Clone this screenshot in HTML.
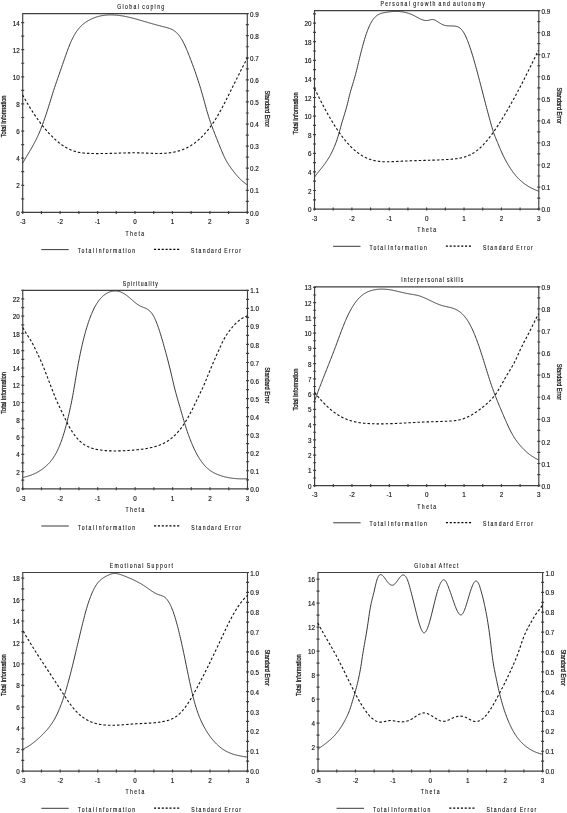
<!DOCTYPE html>
<html><head><meta charset="utf-8"><style>
html,body{margin:0;padding:0;background:#fff;}
body{width:567px;height:813px;overflow:hidden;}
svg{display:block;font-family:"Liberation Sans", sans-serif;will-change:transform;}
</style></head><body>
<svg width="567" height="813" viewBox="0 0 567 813">
<rect width="567" height="813" fill="#fff"/>
<g><path d="M22.7,13.6 H247.3 V212.4 H22.7 Z" fill="none" stroke="#404040" stroke-width="1.15"/>
<text x="22.7" y="224.1" text-anchor="middle" font-size="6.3" stroke="#111" stroke-width="0.14" fill="#111">-3</text>
<text x="60.13" y="224.1" text-anchor="middle" font-size="6.3" stroke="#111" stroke-width="0.14" fill="#111">-2</text>
<text x="97.57" y="224.1" text-anchor="middle" font-size="6.3" stroke="#111" stroke-width="0.14" fill="#111">-1</text>
<text x="135" y="224.1" text-anchor="middle" font-size="6.3" stroke="#111" stroke-width="0.14" fill="#111">0</text>
<text x="172.43" y="224.1" text-anchor="middle" font-size="6.3" stroke="#111" stroke-width="0.14" fill="#111">1</text>
<text x="209.87" y="224.1" text-anchor="middle" font-size="6.3" stroke="#111" stroke-width="0.14" fill="#111">2</text>
<text x="247.3" y="224.1" text-anchor="middle" font-size="6.3" stroke="#111" stroke-width="0.14" fill="#111">3</text>
<text x="19.7" y="215.5" text-anchor="end" font-size="6.3" stroke="#111" stroke-width="0.14" fill="#111">0</text>
<text x="19.7" y="188.38" text-anchor="end" font-size="6.3" stroke="#111" stroke-width="0.14" fill="#111">2</text>
<text x="19.7" y="161.26" text-anchor="end" font-size="6.3" stroke="#111" stroke-width="0.14" fill="#111">4</text>
<text x="19.7" y="134.14" text-anchor="end" font-size="6.3" stroke="#111" stroke-width="0.14" fill="#111">6</text>
<text x="19.7" y="107.02" text-anchor="end" font-size="6.3" stroke="#111" stroke-width="0.14" fill="#111">8</text>
<text x="19.7" y="79.9" text-anchor="end" font-size="6.3" stroke="#111" stroke-width="0.14" fill="#111">10</text>
<text x="19.7" y="52.78" text-anchor="end" font-size="6.3" stroke="#111" stroke-width="0.14" fill="#111">12</text>
<text x="19.7" y="25.66" text-anchor="end" font-size="6.3" stroke="#111" stroke-width="0.14" fill="#111">14</text>
<text x="250.1" y="215.5" text-anchor="start" font-size="6.3" stroke="#111" stroke-width="0.14" fill="#111">0.0</text>
<text x="250.1" y="193.41" text-anchor="start" font-size="6.3" stroke="#111" stroke-width="0.14" fill="#111">0.1</text>
<text x="250.1" y="171.32" text-anchor="start" font-size="6.3" stroke="#111" stroke-width="0.14" fill="#111">0.2</text>
<text x="250.1" y="149.23" text-anchor="start" font-size="6.3" stroke="#111" stroke-width="0.14" fill="#111">0.3</text>
<text x="250.1" y="127.14" text-anchor="start" font-size="6.3" stroke="#111" stroke-width="0.14" fill="#111">0.4</text>
<text x="250.1" y="105.06" text-anchor="start" font-size="6.3" stroke="#111" stroke-width="0.14" fill="#111">0.5</text>
<text x="250.1" y="82.97" text-anchor="start" font-size="6.3" stroke="#111" stroke-width="0.14" fill="#111">0.6</text>
<text x="250.1" y="60.88" text-anchor="start" font-size="6.3" stroke="#111" stroke-width="0.14" fill="#111">0.7</text>
<text x="250.1" y="38.79" text-anchor="start" font-size="6.3" stroke="#111" stroke-width="0.14" fill="#111">0.8</text>
<text x="250.1" y="16.7" text-anchor="start" font-size="6.3" stroke="#111" stroke-width="0.14" fill="#111">0.9</text>
<path d="M22.7,210.9v3 M41.42,210.9v3 M60.13,210.9v3 M78.85,210.9v3 M97.57,210.9v3 M116.28,210.9v3 M135,210.9v3 M153.72,210.9v3 M172.43,210.9v3 M191.15,210.9v3 M209.87,210.9v3 M228.58,210.9v3 M247.3,210.9v3 M21.2,212.4h3 M21.2,198.84h3 M21.2,185.28h3 M21.2,171.72h3 M21.2,158.16h3 M21.2,144.6h3 M21.2,131.04h3 M21.2,117.48h3 M21.2,103.92h3 M21.2,90.36h3 M21.2,76.8h3 M21.2,63.24h3 M21.2,49.68h3 M21.2,36.12h3 M21.2,22.56h3 M245.8,212.4h3 M245.8,201.36h3 M245.8,190.31h3 M245.8,179.27h3 M245.8,168.22h3 M245.8,157.18h3 M245.8,146.13h3 M245.8,135.09h3 M245.8,124.04h3 M245.8,113h3 M245.8,101.96h3 M245.8,90.91h3 M245.8,79.87h3 M245.8,68.82h3 M245.8,57.78h3 M245.8,46.73h3 M245.8,35.69h3 M245.8,24.64h3 M245.8,13.6h3" stroke="#404040" stroke-width="1.2" fill="none"/>
<text x="146.5" y="8.8" text-anchor="start" font-size="6.4" textLength="58.75" lengthAdjust="spacing" word-spacing="-1.0" transform="scale(0.8,1)" stroke="#111" stroke-width="0.12" fill="#111">Global coping</text>
<text transform="translate(5.9,116.4) rotate(-90)" text-anchor="middle" font-size="6.5" textLength="41.8" lengthAdjust="spacingAndGlyphs" fill="#111" stroke="#111" stroke-width="0.25">Total Information</text>
<text transform="translate(265.2,108.8) rotate(90)" text-anchor="middle" font-size="6.5" textLength="36.4" lengthAdjust="spacingAndGlyphs" fill="#111" stroke="#111" stroke-width="0.25">Standard Error</text>
<text x="156.75" y="235.8" text-anchor="start" font-size="6.4" textLength="23.5" lengthAdjust="spacing" word-spacing="-1.0" transform="scale(0.8,1)" stroke="#111" stroke-width="0.12" fill="#111">Theta</text>
<path d="M41.3,249.6H68.7" stroke="#222" stroke-width="0.9" fill="none"/>
<text x="97.12" y="253.2" text-anchor="start" font-size="6.4" textLength="71.62" lengthAdjust="spacing" word-spacing="-2.4" transform="scale(0.8,1)" stroke="#111" stroke-width="0.12" fill="#111">Total Information</text>
<path d="M154,249.4H179.3" stroke="#000" stroke-width="1.25" stroke-dasharray="2.1 1.75" fill="none"/>
<text x="238.87" y="253.2" text-anchor="start" font-size="6.4" textLength="62.37" lengthAdjust="spacing" word-spacing="-1.0" transform="scale(0.8,1)" stroke="#111" stroke-width="0.12" fill="#111">Standard Error</text>
<path d="M22.6,163.36 L23.1,162.47 L23.6,161.58 L24.1,160.7 L24.6,159.84 L25.1,158.98 L25.6,158.13 L26.1,157.28 L26.6,156.44 L27.1,155.6 L27.6,154.77 L28.1,153.93 L28.6,153.09 L29.1,152.25 L29.6,151.41 L30.1,150.56 L30.6,149.71 L31.1,148.85 L31.6,147.99 L32.1,147.11 L32.6,146.22 L33.1,145.32 L33.6,144.41 L34.1,143.48 L34.6,142.53 L35.1,141.57 L35.6,140.59 L36.1,139.6 L36.6,138.58 L37.1,137.53 L37.6,136.47 L38.1,135.38 L38.6,134.26 L39.1,133.12 L39.6,131.95 L40.1,130.75 L40.6,129.52 L41.1,128.27 L41.6,126.99 L42.1,125.68 L42.6,124.35 L43.1,123 L43.6,121.62 L44.1,120.21 L44.6,118.79 L45.1,117.34 L45.6,115.86 L46.1,114.37 L46.6,112.86 L47.1,111.32 L47.6,109.77 L48.1,108.2 L48.6,106.6 L49.1,105 L49.6,103.38 L50.1,101.76 L50.6,100.14 L51.1,98.51 L51.6,96.89 L52.1,95.28 L52.6,93.67 L53.1,92.09 L53.6,90.52 L54.1,88.98 L54.6,87.45 L55.1,85.96 L55.6,84.48 L56.1,83.02 L56.6,81.57 L57.1,80.13 L57.6,78.7 L58.1,77.28 L58.6,75.86 L59.1,74.44 L59.6,73.02 L60.1,71.6 L60.6,70.17 L61.1,68.72 L61.6,67.27 L62.1,65.82 L62.6,64.36 L63.1,62.9 L63.6,61.44 L64.1,59.99 L64.6,58.55 L65.1,57.11 L65.6,55.68 L66.1,54.27 L66.6,52.88 L67.1,51.5 L67.6,50.14 L68.1,48.81 L68.6,47.51 L69.1,46.23 L69.6,44.98 L70.1,43.77 L70.6,42.59 L71.1,41.45 L71.6,40.36 L72.1,39.3 L72.6,38.28 L73.1,37.3 L73.6,36.35 L74.1,35.45 L74.6,34.57 L75.1,33.74 L75.6,32.93 L76.1,32.16 L76.6,31.42 L77.1,30.71 L77.6,30.03 L78.1,29.38 L78.6,28.75 L79.1,28.15 L79.6,27.58 L80.1,27.03 L80.6,26.5 L81.1,26 L81.6,25.52 L82.1,25.06 L82.6,24.61 L83.1,24.19 L83.6,23.78 L84.1,23.39 L84.6,23.02 L85.1,22.66 L85.6,22.31 L86.1,21.98 L86.6,21.65 L87.1,21.34 L87.6,21.04 L88.1,20.74 L88.6,20.46 L89.1,20.18 L89.6,19.91 L90.1,19.65 L90.6,19.4 L91.1,19.15 L91.6,18.92 L92.1,18.69 L92.6,18.47 L93.1,18.26 L93.6,18.05 L94.1,17.85 L94.6,17.66 L95.1,17.48 L95.6,17.3 L96.1,17.13 L96.6,16.97 L97.1,16.82 L97.6,16.67 L98.1,16.53 L98.6,16.39 L99.1,16.26 L99.6,16.14 L100.1,16.03 L100.6,15.92 L101.1,15.81 L101.6,15.72 L102.1,15.62 L102.6,15.54 L103.1,15.46 L103.6,15.39 L104.1,15.32 L104.6,15.26 L105.1,15.2 L105.6,15.15 L106.1,15.1 L106.6,15.06 L107.1,15.02 L107.6,14.99 L108.1,14.96 L108.6,14.94 L109.1,14.93 L109.6,14.91 L110.1,14.91 L110.6,14.9 L111.1,14.9 L111.6,14.91 L112.1,14.92 L112.6,14.93 L113.1,14.95 L113.6,14.97 L114.1,14.99 L114.6,15.02 L115.1,15.05 L115.6,15.09 L116.1,15.13 L116.6,15.17 L117.1,15.22 L117.6,15.27 L118.1,15.33 L118.6,15.39 L119.1,15.45 L119.6,15.51 L120.1,15.58 L120.6,15.65 L121.1,15.72 L121.6,15.8 L122.1,15.88 L122.6,15.96 L123.1,16.05 L123.6,16.14 L124.1,16.23 L124.6,16.32 L125.1,16.42 L125.6,16.52 L126.1,16.62 L126.6,16.72 L127.1,16.83 L127.6,16.93 L128.1,17.04 L128.6,17.16 L129.1,17.27 L129.6,17.39 L130.1,17.51 L130.6,17.63 L131.1,17.75 L131.6,17.87 L132.1,18 L132.6,18.13 L133.1,18.25 L133.6,18.39 L134.1,18.52 L134.6,18.65 L135.1,18.79 L135.6,18.92 L136.1,19.06 L136.6,19.2 L137.1,19.34 L137.6,19.48 L138.1,19.62 L138.6,19.76 L139.1,19.9 L139.6,20.05 L140.1,20.19 L140.6,20.34 L141.1,20.48 L141.6,20.63 L142.1,20.77 L142.6,20.92 L143.1,21.07 L143.6,21.22 L144.1,21.36 L144.6,21.51 L145.1,21.66 L145.6,21.81 L146.1,21.96 L146.6,22.1 L147.1,22.25 L147.6,22.4 L148.1,22.55 L148.6,22.69 L149.1,22.84 L149.6,22.99 L150.1,23.13 L150.6,23.28 L151.1,23.42 L151.6,23.57 L152.1,23.71 L152.6,23.85 L153.1,23.99 L153.6,24.13 L154.1,24.27 L154.6,24.41 L155.1,24.55 L155.6,24.68 L156.1,24.82 L156.6,24.95 L157.1,25.08 L157.6,25.21 L158.1,25.34 L158.6,25.48 L159.1,25.61 L159.6,25.73 L160.1,25.86 L160.6,25.99 L161.1,26.12 L161.6,26.25 L162.1,26.38 L162.6,26.51 L163.1,26.64 L163.6,26.77 L164.1,26.9 L164.6,27.03 L165.1,27.16 L165.6,27.3 L166.1,27.43 L166.6,27.57 L167.1,27.7 L167.6,27.84 L168.1,27.99 L168.6,28.14 L169.1,28.3 L169.6,28.47 L170.1,28.65 L170.6,28.85 L171.1,29.06 L171.6,29.28 L172.1,29.52 L172.6,29.78 L173.1,30.07 L173.6,30.37 L174.1,30.69 L174.6,31.04 L175.1,31.42 L175.6,31.82 L176.1,32.26 L176.6,32.72 L177.1,33.22 L177.6,33.75 L178.1,34.31 L178.6,34.91 L179.1,35.54 L179.6,36.21 L180.1,36.91 L180.6,37.65 L181.1,38.43 L181.6,39.24 L182.1,40.09 L182.6,40.97 L183.1,41.89 L183.6,42.85 L184.1,43.85 L184.6,44.88 L185.1,45.96 L185.6,47.06 L186.1,48.2 L186.6,49.36 L187.1,50.55 L187.6,51.76 L188.1,53 L188.6,54.24 L189.1,55.51 L189.6,56.78 L190.1,58.07 L190.6,59.37 L191.1,60.68 L191.6,62 L192.1,63.34 L192.6,64.69 L193.1,66.05 L193.6,67.43 L194.1,68.82 L194.6,70.23 L195.1,71.65 L195.6,73.08 L196.1,74.53 L196.6,75.99 L197.1,77.47 L197.6,78.97 L198.1,80.49 L198.6,82.02 L199.1,83.59 L199.6,85.18 L200.1,86.79 L200.6,88.44 L201.1,90.12 L201.6,91.83 L202.1,93.57 L202.6,95.34 L203.1,97.13 L203.6,98.94 L204.1,100.75 L204.6,102.57 L205.1,104.38 L205.6,106.19 L206.1,107.98 L206.6,109.74 L207.1,111.49 L207.6,113.19 L208.1,114.86 L208.6,116.49 L209.1,118.07 L209.6,119.6 L210.1,121.09 L210.6,122.54 L211.1,123.96 L211.6,125.35 L212.1,126.71 L212.6,128.05 L213.1,129.38 L213.6,130.68 L214.1,131.98 L214.6,133.27 L215.1,134.55 L215.6,135.83 L216.1,137.1 L216.6,138.37 L217.1,139.64 L217.6,140.89 L218.1,142.14 L218.6,143.39 L219.1,144.63 L219.6,145.86 L220.1,147.08 L220.6,148.3 L221.1,149.5 L221.6,150.7 L222.1,151.89 L222.6,153.06 L223.1,154.21 L223.6,155.33 L224.1,156.43 L224.6,157.5 L225.1,158.53 L225.6,159.51 L226.1,160.46 L226.6,161.35 L227.1,162.21 L227.6,163.03 L228.1,163.81 L228.6,164.57 L229.1,165.32 L229.6,166.05 L230.1,166.77 L230.6,167.48 L231.1,168.19 L231.6,168.88 L232.1,169.56 L232.6,170.23 L233.1,170.89 L233.6,171.54 L234.1,172.18 L234.6,172.81 L235.1,173.43 L235.6,174.03 L236.1,174.63 L236.6,175.22 L237.1,175.79 L237.6,176.35 L238.1,176.9 L238.6,177.44 L239.1,177.97 L239.6,178.48 L240.1,178.98 L240.6,179.48 L241.1,179.95 L241.6,180.42 L242.1,180.87 L242.6,181.32 L243.1,181.74 L243.6,182.16 L244.1,182.56 L244.6,182.95 L245.1,183.33 L245.6,183.69 L246.1,184.04 L246.6,184.38 L247.1,184.7 L247.2,184.77" stroke="#383838" stroke-width="1" fill="none"/>
<path d="M22.5,94.77 L23,95.68 L23.5,96.57 L24,97.46 L24.5,98.35 L25,99.23 L25.5,100.1 L26,100.96 L26.5,101.82 L27,102.67 L27.5,103.52 L28,104.36 L28.5,105.19 L29,106.01 L29.5,106.83 L30,107.64 L30.5,108.44 L31,109.24 L31.5,110.03 L32,110.82 L32.5,111.59 L33,112.36 L33.5,113.13 L34,113.89 L34.5,114.63 L35,115.38 L35.5,116.11 L36,116.84 L36.5,117.57 L37,118.28 L37.5,118.99 L38,119.69 L38.5,120.38 L39,121.07 L39.5,121.75 L40,122.43 L40.5,123.09 L41,123.75 L41.5,124.4 L42,125.05 L42.5,125.69 L43,126.32 L43.5,126.94 L44,127.56 L44.5,128.17 L45,128.77 L45.5,129.37 L46,129.96 L46.5,130.54 L47,131.11 L47.5,131.68 L48,132.24 L48.5,132.79 L49,133.34 L49.5,133.87 L50,134.41 L50.5,134.93 L51,135.45 L51.5,135.95 L52,136.46 L52.5,136.95 L53,137.44 L53.5,137.92 L54,138.39 L54.5,138.85 L55,139.31 L55.5,139.76 L56,140.2 L56.5,140.64 L57,141.07 L57.5,141.49 L58,141.9 L58.5,142.3 L59,142.7 L59.5,143.09 L60,143.48 L60.5,143.85 L61,144.22 L61.5,144.58 L62,144.93 L62.5,145.28 L63,145.61 L63.5,145.94 L64,146.27 L64.5,146.58 L65,146.89 L65.5,147.19 L66,147.48 L66.5,147.76 L67,148.04 L67.5,148.31 L68,148.57 L68.5,148.82 L69,149.07 L69.5,149.3 L70,149.53 L70.5,149.76 L71,149.97 L71.5,150.18 L72,150.38 L72.5,150.57 L73,150.75 L73.5,150.92 L74,151.09 L74.5,151.25 L75,151.4 L75.5,151.55 L76,151.68 L76.5,151.81 L77,151.94 L77.5,152.06 L78,152.17 L78.5,152.27 L79,152.37 L79.5,152.46 L80,152.55 L80.5,152.63 L81,152.71 L81.5,152.78 L82,152.85 L82.5,152.91 L83,152.97 L83.5,153.02 L84,153.07 L84.5,153.12 L85,153.16 L85.5,153.2 L86,153.24 L86.5,153.27 L87,153.3 L87.5,153.33 L88,153.36 L88.5,153.38 L89,153.4 L89.5,153.42 L90,153.44 L90.5,153.46 L91,153.48 L91.5,153.49 L92,153.5 L92.5,153.52 L93,153.53 L93.5,153.54 L94,153.55 L94.5,153.56 L95,153.56 L95.5,153.57 L96,153.57 L96.5,153.58 L97,153.58 L97.5,153.58 L98,153.58 L98.5,153.58 L99,153.58 L99.5,153.58 L100,153.58 L100.5,153.57 L101,153.57 L101.5,153.56 L102,153.56 L102.5,153.55 L103,153.54 L103.5,153.53 L104,153.53 L104.5,153.52 L105,153.51 L105.5,153.5 L106,153.49 L106.5,153.47 L107,153.46 L107.5,153.45 L108,153.44 L108.5,153.42 L109,153.41 L109.5,153.4 L110,153.38 L110.5,153.37 L111,153.35 L111.5,153.34 L112,153.32 L112.5,153.31 L113,153.29 L113.5,153.28 L114,153.26 L114.5,153.24 L115,153.23 L115.5,153.21 L116,153.2 L116.5,153.18 L117,153.16 L117.5,153.15 L118,153.13 L118.5,153.12 L119,153.1 L119.5,153.08 L120,153.07 L120.5,153.05 L121,153.04 L121.5,153.02 L122,153.01 L122.5,152.99 L123,152.98 L123.5,152.97 L124,152.95 L124.5,152.94 L125,152.93 L125.5,152.92 L126,152.9 L126.5,152.89 L127,152.88 L127.5,152.87 L128,152.86 L128.5,152.86 L129,152.85 L129.5,152.84 L130,152.83 L130.5,152.83 L131,152.82 L131.5,152.82 L132,152.81 L132.5,152.81 L133,152.81 L133.5,152.81 L134,152.81 L134.5,152.81 L135,152.81 L135.5,152.81 L136,152.81 L136.5,152.82 L137,152.82 L137.5,152.83 L138,152.84 L138.5,152.85 L139,152.86 L139.5,152.87 L140,152.88 L140.5,152.89 L141,152.91 L141.5,152.92 L142,152.94 L142.5,152.96 L143,152.97 L143.5,152.99 L144,153.01 L144.5,153.03 L145,153.05 L145.5,153.07 L146,153.09 L146.5,153.11 L147,153.14 L147.5,153.16 L148,153.18 L148.5,153.2 L149,153.22 L149.5,153.24 L150,153.26 L150.5,153.28 L151,153.3 L151.5,153.32 L152,153.34 L152.5,153.35 L153,153.37 L153.5,153.38 L154,153.4 L154.5,153.41 L155,153.42 L155.5,153.43 L156,153.44 L156.5,153.45 L157,153.45 L157.5,153.46 L158,153.46 L158.5,153.46 L159,153.46 L159.5,153.45 L160,153.45 L160.5,153.44 L161,153.43 L161.5,153.42 L162,153.4 L162.5,153.39 L163,153.37 L163.5,153.34 L164,153.32 L164.5,153.29 L165,153.26 L165.5,153.22 L166,153.19 L166.5,153.15 L167,153.1 L167.5,153.06 L168,153 L168.5,152.95 L169,152.89 L169.5,152.83 L170,152.77 L170.5,152.7 L171,152.62 L171.5,152.55 L172,152.47 L172.5,152.38 L173,152.29 L173.5,152.2 L174,152.1 L174.5,151.99 L175,151.89 L175.5,151.77 L176,151.66 L176.5,151.53 L177,151.41 L177.5,151.27 L178,151.14 L178.5,151 L179,150.85 L179.5,150.69 L180,150.53 L180.5,150.37 L181,150.2 L181.5,150.02 L182,149.84 L182.5,149.65 L183,149.46 L183.5,149.26 L184,149.05 L184.5,148.84 L185,148.62 L185.5,148.4 L186,148.16 L186.5,147.93 L187,147.68 L187.5,147.43 L188,147.17 L188.5,146.9 L189,146.62 L189.5,146.34 L190,146.05 L190.5,145.76 L191,145.45 L191.5,145.14 L192,144.82 L192.5,144.49 L193,144.16 L193.5,143.82 L194,143.46 L194.5,143.1 L195,142.74 L195.5,142.36 L196,141.97 L196.5,141.58 L197,141.18 L197.5,140.77 L198,140.35 L198.5,139.92 L199,139.48 L199.5,139.03 L200,138.57 L200.5,138.11 L201,137.63 L201.5,137.14 L202,136.65 L202.5,136.14 L203,135.63 L203.5,135.11 L204,134.57 L204.5,134.03 L205,133.47 L205.5,132.9 L206,132.33 L206.5,131.74 L207,131.14 L207.5,130.54 L208,129.92 L208.5,129.29 L209,128.65 L209.5,128 L210,127.33 L210.5,126.66 L211,125.97 L211.5,125.28 L212,124.57 L212.5,123.85 L213,123.12 L213.5,122.37 L214,121.62 L214.5,120.85 L215,120.07 L215.5,119.28 L216,118.47 L216.5,117.65 L217,116.83 L217.5,115.98 L218,115.13 L218.5,114.27 L219,113.39 L219.5,112.51 L220,111.61 L220.5,110.71 L221,109.79 L221.5,108.87 L222,107.94 L222.5,107 L223,106.06 L223.5,105.1 L224,104.14 L224.5,103.18 L225,102.21 L225.5,101.23 L226,100.25 L226.5,99.26 L227,98.27 L227.5,97.28 L228,96.28 L228.5,95.28 L229,94.28 L229.5,93.27 L230,92.27 L230.5,91.26 L231,90.25 L231.5,89.24 L232,88.23 L232.5,87.22 L233,86.22 L233.5,85.21 L234,84.21 L234.5,83.2 L235,82.2 L235.5,81.21 L236,80.21 L236.5,79.22 L237,78.23 L237.5,77.24 L238,76.25 L238.5,75.26 L239,74.27 L239.5,73.28 L240,72.3 L240.5,71.31 L241,70.32 L241.5,69.33 L242,68.35 L242.5,67.36 L243,66.37 L243.5,65.38 L244,64.38 L244.5,63.39 L245,62.39 L245.5,61.39 L246,60.39 L246.5,59.39 L247,58.38 L247.3,57.77" stroke="#111" stroke-width="1.1" stroke-dasharray="2.5 2.05" fill="none"/></g>
<g><path d="M314.5,10.6 H538.8 V209.1 H314.5 Z" fill="none" stroke="#404040" stroke-width="1.15"/>
<text x="314.5" y="220.8" text-anchor="middle" font-size="6.3" stroke="#111" stroke-width="0.14" fill="#111">-3</text>
<text x="351.88" y="220.8" text-anchor="middle" font-size="6.3" stroke="#111" stroke-width="0.14" fill="#111">-2</text>
<text x="389.27" y="220.8" text-anchor="middle" font-size="6.3" stroke="#111" stroke-width="0.14" fill="#111">-1</text>
<text x="426.65" y="220.8" text-anchor="middle" font-size="6.3" stroke="#111" stroke-width="0.14" fill="#111">0</text>
<text x="464.03" y="220.8" text-anchor="middle" font-size="6.3" stroke="#111" stroke-width="0.14" fill="#111">1</text>
<text x="501.42" y="220.8" text-anchor="middle" font-size="6.3" stroke="#111" stroke-width="0.14" fill="#111">2</text>
<text x="538.8" y="220.8" text-anchor="middle" font-size="6.3" stroke="#111" stroke-width="0.14" fill="#111">3</text>
<text x="311.5" y="212.2" text-anchor="end" font-size="6.3" stroke="#111" stroke-width="0.14" fill="#111">0</text>
<text x="311.5" y="193.6" text-anchor="end" font-size="6.3" stroke="#111" stroke-width="0.14" fill="#111">2</text>
<text x="311.5" y="175" text-anchor="end" font-size="6.3" stroke="#111" stroke-width="0.14" fill="#111">4</text>
<text x="311.5" y="156.4" text-anchor="end" font-size="6.3" stroke="#111" stroke-width="0.14" fill="#111">6</text>
<text x="311.5" y="137.8" text-anchor="end" font-size="6.3" stroke="#111" stroke-width="0.14" fill="#111">8</text>
<text x="311.5" y="119.2" text-anchor="end" font-size="6.3" stroke="#111" stroke-width="0.14" fill="#111">10</text>
<text x="311.5" y="100.6" text-anchor="end" font-size="6.3" stroke="#111" stroke-width="0.14" fill="#111">12</text>
<text x="311.5" y="82" text-anchor="end" font-size="6.3" stroke="#111" stroke-width="0.14" fill="#111">14</text>
<text x="311.5" y="63.4" text-anchor="end" font-size="6.3" stroke="#111" stroke-width="0.14" fill="#111">16</text>
<text x="311.5" y="44.8" text-anchor="end" font-size="6.3" stroke="#111" stroke-width="0.14" fill="#111">18</text>
<text x="311.5" y="26.2" text-anchor="end" font-size="6.3" stroke="#111" stroke-width="0.14" fill="#111">20</text>
<text x="541.6" y="212.2" text-anchor="start" font-size="6.3" stroke="#111" stroke-width="0.14" fill="#111">0.0</text>
<text x="541.6" y="190.14" text-anchor="start" font-size="6.3" stroke="#111" stroke-width="0.14" fill="#111">0.1</text>
<text x="541.6" y="168.09" text-anchor="start" font-size="6.3" stroke="#111" stroke-width="0.14" fill="#111">0.2</text>
<text x="541.6" y="146.03" text-anchor="start" font-size="6.3" stroke="#111" stroke-width="0.14" fill="#111">0.3</text>
<text x="541.6" y="123.98" text-anchor="start" font-size="6.3" stroke="#111" stroke-width="0.14" fill="#111">0.4</text>
<text x="541.6" y="101.92" text-anchor="start" font-size="6.3" stroke="#111" stroke-width="0.14" fill="#111">0.5</text>
<text x="541.6" y="79.87" text-anchor="start" font-size="6.3" stroke="#111" stroke-width="0.14" fill="#111">0.6</text>
<text x="541.6" y="57.81" text-anchor="start" font-size="6.3" stroke="#111" stroke-width="0.14" fill="#111">0.7</text>
<text x="541.6" y="35.76" text-anchor="start" font-size="6.3" stroke="#111" stroke-width="0.14" fill="#111">0.8</text>
<text x="541.6" y="13.7" text-anchor="start" font-size="6.3" stroke="#111" stroke-width="0.14" fill="#111">0.9</text>
<path d="M314.5,207.6v3 M333.19,207.6v3 M351.88,207.6v3 M370.57,207.6v3 M389.27,207.6v3 M407.96,207.6v3 M426.65,207.6v3 M445.34,207.6v3 M464.03,207.6v3 M482.72,207.6v3 M501.42,207.6v3 M520.11,207.6v3 M538.8,207.6v3 M313,209.1h3 M313,199.8h3 M313,190.5h3 M313,181.2h3 M313,171.9h3 M313,162.6h3 M313,153.3h3 M313,144h3 M313,134.7h3 M313,125.4h3 M313,116.1h3 M313,106.8h3 M313,97.5h3 M313,88.2h3 M313,78.9h3 M313,69.6h3 M313,60.3h3 M313,51h3 M313,41.7h3 M313,32.4h3 M313,23.1h3 M313,13.8h3 M537.3,209.1h3 M537.3,198.07h3 M537.3,187.04h3 M537.3,176.02h3 M537.3,164.99h3 M537.3,153.96h3 M537.3,142.93h3 M537.3,131.91h3 M537.3,120.88h3 M537.3,109.85h3 M537.3,98.82h3 M537.3,87.79h3 M537.3,76.77h3 M537.3,65.74h3 M537.3,54.71h3 M537.3,43.68h3 M537.3,32.66h3 M537.3,21.63h3 M537.3,10.6h3" stroke="#404040" stroke-width="1.2" fill="none"/>
<text x="475.5" y="5.8" text-anchor="start" font-size="6.4" textLength="130.62" lengthAdjust="spacing" word-spacing="-1.0" transform="scale(0.8,1)" stroke="#111" stroke-width="0.12" fill="#111">Personal growth and autonomy</text>
<text transform="translate(297.7,113.25) rotate(-90)" text-anchor="middle" font-size="6.5" textLength="41.8" lengthAdjust="spacingAndGlyphs" fill="#111" stroke="#111" stroke-width="0.25">Total Information</text>
<text transform="translate(556.7,105.65) rotate(90)" text-anchor="middle" font-size="6.5" textLength="36.4" lengthAdjust="spacingAndGlyphs" fill="#111" stroke="#111" stroke-width="0.25">Standard Error</text>
<text x="521.5" y="232.5" text-anchor="start" font-size="6.4" textLength="23.5" lengthAdjust="spacing" word-spacing="-1.0" transform="scale(0.8,1)" stroke="#111" stroke-width="0.12" fill="#111">Theta</text>
<path d="M333.1,246.3H360.5" stroke="#222" stroke-width="0.9" fill="none"/>
<text x="461.88" y="249.9" text-anchor="start" font-size="6.4" textLength="71.62" lengthAdjust="spacing" word-spacing="-2.4" transform="scale(0.8,1)" stroke="#111" stroke-width="0.12" fill="#111">Total Information</text>
<path d="M445.8,246.1H471.1" stroke="#000" stroke-width="1.25" stroke-dasharray="2.1 1.75" fill="none"/>
<text x="603.62" y="249.9" text-anchor="start" font-size="6.4" textLength="62.37" lengthAdjust="spacing" word-spacing="-1.0" transform="scale(0.8,1)" stroke="#111" stroke-width="0.12" fill="#111">Standard Error</text>
<path d="M314.5,177.06 L315,176.38 L315.5,175.7 L316,175.04 L316.5,174.38 L317,173.74 L317.5,173.1 L318,172.47 L318.5,171.84 L319,171.21 L319.5,170.59 L320,169.97 L320.5,169.35 L321,168.72 L321.5,168.1 L322,167.46 L322.5,166.83 L323,166.18 L323.5,165.53 L324,164.86 L324.5,164.19 L325,163.5 L325.5,162.8 L326,162.09 L326.5,161.36 L327,160.61 L327.5,159.84 L328,159.05 L328.5,158.24 L329,157.41 L329.5,156.55 L330,155.67 L330.5,154.76 L331,153.83 L331.5,152.86 L332,151.87 L332.5,150.84 L333,149.78 L333.5,148.68 L334,147.55 L334.5,146.37 L335,145.14 L335.5,143.87 L336,142.54 L336.5,141.15 L337,139.7 L337.5,138.18 L338,136.6 L338.5,134.95 L339,133.22 L339.5,131.42 L340,129.59 L340.5,127.74 L341,125.92 L341.5,124.14 L342,122.42 L342.5,120.75 L343,119.1 L343.5,117.48 L344,115.86 L344.5,114.24 L345,112.59 L345.5,110.9 L346,109.17 L346.5,107.38 L347,105.51 L347.5,103.55 L348,101.52 L348.5,99.46 L349,97.4 L349.5,95.38 L350,93.44 L350.5,91.59 L351,89.83 L351.5,88.12 L352,86.47 L352.5,84.83 L353,83.2 L353.5,81.56 L354,79.87 L354.5,78.15 L355,76.38 L355.5,74.55 L356,72.68 L356.5,70.74 L357,68.75 L357.5,66.7 L358,64.62 L358.5,62.52 L359,60.42 L359.5,58.35 L360,56.3 L360.5,54.28 L361,52.29 L361.5,50.34 L362,48.42 L362.5,46.55 L363,44.71 L363.5,42.93 L364,41.19 L364.5,39.5 L365,37.86 L365.5,36.28 L366,34.76 L366.5,33.3 L367,31.89 L367.5,30.54 L368,29.25 L368.5,28.02 L369,26.85 L369.5,25.74 L370,24.69 L370.5,23.69 L371,22.76 L371.5,21.88 L372,21.06 L372.5,20.29 L373,19.58 L373.5,18.91 L374,18.29 L374.5,17.72 L375,17.19 L375.5,16.7 L376,16.25 L376.5,15.83 L377,15.46 L377.5,15.11 L378,14.8 L378.5,14.51 L379,14.26 L379.5,14.02 L380,13.81 L380.5,13.62 L381,13.45 L381.5,13.3 L382,13.16 L382.5,13.04 L383,12.92 L383.5,12.81 L384,12.71 L384.5,12.62 L385,12.53 L385.5,12.44 L386,12.35 L386.5,12.27 L387,12.19 L387.5,12.11 L388,12.04 L388.5,11.97 L389,11.9 L389.5,11.84 L390,11.78 L390.5,11.73 L391,11.67 L391.5,11.63 L392,11.59 L392.5,11.55 L393,11.52 L393.5,11.49 L394,11.47 L394.5,11.45 L395,11.43 L395.5,11.43 L396,11.42 L396.5,11.42 L397,11.43 L397.5,11.44 L398,11.46 L398.5,11.49 L399,11.52 L399.5,11.55 L400,11.59 L400.5,11.64 L401,11.69 L401.5,11.75 L402,11.82 L402.5,11.89 L403,11.97 L403.5,12.06 L404,12.15 L404.5,12.25 L405,12.36 L405.5,12.47 L406,12.6 L406.5,12.72 L407,12.86 L407.5,13 L408,13.15 L408.5,13.31 L409,13.48 L409.5,13.66 L410,13.84 L410.5,14.03 L411,14.23 L411.5,14.44 L412,14.65 L412.5,14.88 L413,15.11 L413.5,15.35 L414,15.6 L414.5,15.86 L415,16.12 L415.5,16.39 L416,16.66 L416.5,16.94 L417,17.21 L417.5,17.48 L418,17.75 L418.5,18.02 L419,18.28 L419.5,18.53 L420,18.78 L420.5,19.01 L421,19.24 L421.5,19.45 L422,19.65 L422.5,19.83 L423,19.99 L423.5,20.14 L424,20.27 L424.5,20.37 L425,20.46 L425.5,20.52 L426,20.55 L426.5,20.55 L427,20.53 L427.5,20.48 L428,20.4 L428.5,20.29 L429,20.17 L429.5,20.04 L430,19.91 L430.5,19.79 L431,19.68 L431.5,19.6 L432,19.55 L432.5,19.53 L433,19.57 L433.5,19.65 L434,19.78 L434.5,19.95 L435,20.16 L435.5,20.4 L436,20.67 L436.5,20.95 L437,21.26 L437.5,21.58 L438,21.9 L438.5,22.23 L439,22.55 L439.5,22.88 L440,23.2 L440.5,23.5 L441,23.8 L441.5,24.08 L442,24.34 L442.5,24.58 L443,24.8 L443.5,24.99 L444,25.15 L444.5,25.3 L445,25.42 L445.5,25.53 L446,25.62 L446.5,25.69 L447,25.75 L447.5,25.8 L448,25.84 L448.5,25.86 L449,25.89 L449.5,25.9 L450,25.91 L450.5,25.92 L451,25.93 L451.5,25.94 L452,25.95 L452.5,25.96 L453,25.99 L453.5,26.01 L454,26.05 L454.5,26.09 L455,26.15 L455.5,26.22 L456,26.31 L456.5,26.42 L457,26.56 L457.5,26.72 L458,26.91 L458.5,27.14 L459,27.41 L459.5,27.72 L460,28.08 L460.5,28.49 L461,28.95 L461.5,29.47 L462,30.06 L462.5,30.7 L463,31.42 L463.5,32.2 L464,33.04 L464.5,33.95 L465,34.91 L465.5,35.93 L466,37.01 L466.5,38.14 L467,39.33 L467.5,40.56 L468,41.84 L468.5,43.17 L469,44.54 L469.5,45.95 L470,47.41 L470.5,48.9 L471,50.43 L471.5,52 L472,53.6 L472.5,55.23 L473,56.89 L473.5,58.58 L474,60.3 L474.5,62.04 L475,63.81 L475.5,65.59 L476,67.4 L476.5,69.22 L477,71.06 L477.5,72.92 L478,74.79 L478.5,76.67 L479,78.57 L479.5,80.47 L480,82.39 L480.5,84.31 L481,86.24 L481.5,88.17 L482,90.1 L482.5,92.04 L483,93.97 L483.5,95.91 L484,97.84 L484.5,99.77 L485,101.69 L485.5,103.61 L486,105.52 L486.5,107.43 L487,109.32 L487.5,111.2 L488,113.07 L488.5,114.93 L489,116.78 L489.5,118.61 L490,120.42 L490.5,122.22 L491,123.99 L491.5,125.75 L492,127.48 L492.5,129.16 L493,130.77 L493.5,132.31 L494,133.76 L494.5,135.13 L495,136.43 L495.5,137.68 L496,138.9 L496.5,140.09 L497,141.27 L497.5,142.46 L498,143.66 L498.5,144.86 L499,146.06 L499.5,147.25 L500,148.43 L500.5,149.6 L501,150.75 L501.5,151.88 L502,152.99 L502.5,154.07 L503,155.13 L503.5,156.17 L504,157.19 L504.5,158.19 L505,159.16 L505.5,160.12 L506,161.05 L506.5,161.97 L507,162.86 L507.5,163.74 L508,164.59 L508.5,165.43 L509,166.25 L509.5,167.05 L510,167.83 L510.5,168.59 L511,169.34 L511.5,170.07 L512,170.78 L512.5,171.48 L513,172.15 L513.5,172.82 L514,173.46 L514.5,174.09 L515,174.71 L515.5,175.31 L516,175.89 L516.5,176.46 L517,177.02 L517.5,177.56 L518,178.09 L518.5,178.6 L519,179.1 L519.5,179.59 L520,180.06 L520.5,180.53 L521,180.98 L521.5,181.41 L522,181.84 L522.5,182.26 L523,182.66 L523.5,183.05 L524,183.44 L524.5,183.81 L525,184.17 L525.5,184.52 L526,184.87 L526.5,185.2 L527,185.52 L527.5,185.84 L528,186.15 L528.5,186.45 L529,186.74 L529.5,187.02 L530,187.3 L530.5,187.57 L531,187.83 L531.5,188.09 L532,188.34 L532.5,188.58 L533,188.82 L533.5,189.05 L534,189.28 L534.5,189.5 L535,189.72 L535.5,189.94 L536,190.15 L536.5,190.35 L537,190.56 L537.5,190.76 L538,190.95 L538.5,191.15 L538.8,191.26" stroke="#383838" stroke-width="1" fill="none"/>
<path d="M314.5,88.47 L315,89.48 L315.5,90.5 L316,91.51 L316.5,92.51 L317,93.52 L317.5,94.52 L318,95.51 L318.5,96.5 L319,97.49 L319.5,98.47 L320,99.45 L320.5,100.43 L321,101.4 L321.5,102.36 L322,103.32 L322.5,104.28 L323,105.23 L323.5,106.17 L324,107.11 L324.5,108.04 L325,108.97 L325.5,109.89 L326,110.81 L326.5,111.72 L327,112.62 L327.5,113.52 L328,114.41 L328.5,115.3 L329,116.18 L329.5,117.05 L330,117.92 L330.5,118.77 L331,119.63 L331.5,120.47 L332,121.31 L332.5,122.14 L333,122.96 L333.5,123.77 L334,124.58 L334.5,125.38 L335,126.17 L335.5,126.95 L336,127.72 L336.5,128.49 L337,129.24 L337.5,129.99 L338,130.73 L338.5,131.46 L339,132.19 L339.5,132.9 L340,133.6 L340.5,134.3 L341,134.98 L341.5,135.66 L342,136.32 L342.5,136.98 L343,137.63 L343.5,138.27 L344,138.9 L344.5,139.53 L345,140.14 L345.5,140.74 L346,141.34 L346.5,141.92 L347,142.5 L347.5,143.07 L348,143.63 L348.5,144.18 L349,144.72 L349.5,145.25 L350,145.77 L350.5,146.28 L351,146.79 L351.5,147.28 L352,147.77 L352.5,148.25 L353,148.71 L353.5,149.17 L354,149.62 L354.5,150.07 L355,150.5 L355.5,150.92 L356,151.34 L356.5,151.74 L357,152.14 L357.5,152.52 L358,152.9 L358.5,153.27 L359,153.63 L359.5,153.98 L360,154.33 L360.5,154.66 L361,154.98 L361.5,155.3 L362,155.6 L362.5,155.9 L363,156.19 L363.5,156.47 L364,156.74 L364.5,157 L365,157.25 L365.5,157.5 L366,157.73 L366.5,157.96 L367,158.18 L367.5,158.39 L368,158.6 L368.5,158.79 L369,158.98 L369.5,159.16 L370,159.33 L370.5,159.5 L371,159.66 L371.5,159.81 L372,159.96 L372.5,160.1 L373,160.23 L373.5,160.35 L374,160.47 L374.5,160.59 L375,160.69 L375.5,160.79 L376,160.89 L376.5,160.98 L377,161.06 L377.5,161.14 L378,161.22 L378.5,161.28 L379,161.35 L379.5,161.41 L380,161.46 L380.5,161.51 L381,161.55 L381.5,161.59 L382,161.63 L382.5,161.66 L383,161.69 L383.5,161.72 L384,161.74 L384.5,161.76 L385,161.77 L385.5,161.78 L386,161.79 L386.5,161.79 L387,161.79 L387.5,161.79 L388,161.79 L388.5,161.78 L389,161.78 L389.5,161.77 L390,161.75 L390.5,161.74 L391,161.72 L391.5,161.7 L392,161.68 L392.5,161.66 L393,161.64 L393.5,161.62 L394,161.59 L394.5,161.57 L395,161.54 L395.5,161.52 L396,161.49 L396.5,161.46 L397,161.43 L397.5,161.41 L398,161.38 L398.5,161.35 L399,161.32 L399.5,161.3 L400,161.27 L400.5,161.24 L401,161.22 L401.5,161.19 L402,161.17 L402.5,161.15 L403,161.12 L403.5,161.1 L404,161.08 L404.5,161.06 L405,161.04 L405.5,161.01 L406,160.99 L406.5,160.97 L407,160.95 L407.5,160.93 L408,160.92 L408.5,160.9 L409,160.88 L409.5,160.86 L410,160.84 L410.5,160.82 L411,160.81 L411.5,160.79 L412,160.77 L412.5,160.76 L413,160.74 L413.5,160.73 L414,160.71 L414.5,160.69 L415,160.68 L415.5,160.66 L416,160.65 L416.5,160.63 L417,160.62 L417.5,160.6 L418,160.59 L418.5,160.57 L419,160.56 L419.5,160.55 L420,160.53 L420.5,160.52 L421,160.5 L421.5,160.49 L422,160.47 L422.5,160.46 L423,160.45 L423.5,160.43 L424,160.42 L424.5,160.4 L425,160.39 L425.5,160.37 L426,160.36 L426.5,160.34 L427,160.33 L427.5,160.31 L428,160.3 L428.5,160.28 L429,160.27 L429.5,160.25 L430,160.24 L430.5,160.22 L431,160.2 L431.5,160.19 L432,160.17 L432.5,160.15 L433,160.14 L433.5,160.12 L434,160.1 L434.5,160.08 L435,160.07 L435.5,160.05 L436,160.03 L436.5,160.01 L437,159.99 L437.5,159.97 L438,159.95 L438.5,159.93 L439,159.91 L439.5,159.88 L440,159.86 L440.5,159.84 L441,159.82 L441.5,159.79 L442,159.77 L442.5,159.74 L443,159.72 L443.5,159.69 L444,159.67 L444.5,159.64 L445,159.61 L445.5,159.59 L446,159.56 L446.5,159.53 L447,159.5 L447.5,159.47 L448,159.44 L448.5,159.41 L449,159.37 L449.5,159.34 L450,159.31 L450.5,159.27 L451,159.24 L451.5,159.2 L452,159.16 L452.5,159.12 L453,159.07 L453.5,159.03 L454,158.98 L454.5,158.93 L455,158.87 L455.5,158.82 L456,158.76 L456.5,158.69 L457,158.62 L457.5,158.55 L458,158.48 L458.5,158.4 L459,158.31 L459.5,158.22 L460,158.13 L460.5,158.03 L461,157.92 L461.5,157.81 L462,157.69 L462.5,157.57 L463,157.44 L463.5,157.31 L464,157.17 L464.5,157.02 L465,156.86 L465.5,156.7 L466,156.53 L466.5,156.36 L467,156.17 L467.5,155.98 L468,155.78 L468.5,155.57 L469,155.35 L469.5,155.12 L470,154.89 L470.5,154.64 L471,154.39 L471.5,154.13 L472,153.85 L472.5,153.57 L473,153.28 L473.5,152.98 L474,152.66 L474.5,152.34 L475,152 L475.5,151.65 L476,151.3 L476.5,150.93 L477,150.55 L477.5,150.15 L478,149.75 L478.5,149.33 L479,148.9 L479.5,148.46 L480,148.01 L480.5,147.54 L481,147.07 L481.5,146.58 L482,146.09 L482.5,145.58 L483,145.06 L483.5,144.53 L484,143.99 L484.5,143.45 L485,142.89 L485.5,142.32 L486,141.74 L486.5,141.15 L487,140.56 L487.5,139.95 L488,139.34 L488.5,138.72 L489,138.08 L489.5,137.44 L490,136.79 L490.5,136.14 L491,135.47 L491.5,134.8 L492,134.12 L492.5,133.43 L493,132.74 L493.5,132.03 L494,131.32 L494.5,130.61 L495,129.89 L495.5,129.16 L496,128.42 L496.5,127.68 L497,126.93 L497.5,126.17 L498,125.41 L498.5,124.65 L499,123.88 L499.5,123.1 L500,122.32 L500.5,121.53 L501,120.74 L501.5,119.94 L502,119.14 L502.5,118.33 L503,117.52 L503.5,116.7 L504,115.88 L504.5,115.05 L505,114.22 L505.5,113.38 L506,112.54 L506.5,111.69 L507,110.84 L507.5,109.98 L508,109.12 L508.5,108.26 L509,107.39 L509.5,106.52 L510,105.64 L510.5,104.75 L511,103.87 L511.5,102.98 L512,102.08 L512.5,101.18 L513,100.28 L513.5,99.37 L514,98.46 L514.5,97.55 L515,96.63 L515.5,95.71 L516,94.78 L516.5,93.85 L517,92.92 L517.5,91.98 L518,91.04 L518.5,90.09 L519,89.15 L519.5,88.19 L520,87.24 L520.5,86.28 L521,85.32 L521.5,84.36 L522,83.39 L522.5,82.42 L523,81.45 L523.5,80.47 L524,79.49 L524.5,78.51 L525,77.52 L525.5,76.54 L526,75.55 L526.5,74.55 L527,73.56 L527.5,72.56 L528,71.56 L528.5,70.56 L529,69.55 L529.5,68.54 L530,67.53 L530.5,66.52 L531,65.5 L531.5,64.49 L532,63.47 L532.5,62.45 L533,61.42 L533.5,60.4 L534,59.37 L534.5,58.34 L535,57.31 L535.5,56.28 L536,55.25 L536.5,54.21 L537,53.17 L537.5,52.13 L538,51.09 L538.3,50.47" stroke="#111" stroke-width="1.1" stroke-dasharray="2.5 2.05" fill="none"/></g>
<g><path d="M22.75,290.3 H247.5 V488.8 H22.75 Z" fill="none" stroke="#404040" stroke-width="1.15"/>
<text x="22.75" y="500.5" text-anchor="middle" font-size="6.3" stroke="#111" stroke-width="0.14" fill="#111">-3</text>
<text x="60.21" y="500.5" text-anchor="middle" font-size="6.3" stroke="#111" stroke-width="0.14" fill="#111">-2</text>
<text x="97.67" y="500.5" text-anchor="middle" font-size="6.3" stroke="#111" stroke-width="0.14" fill="#111">-1</text>
<text x="135.12" y="500.5" text-anchor="middle" font-size="6.3" stroke="#111" stroke-width="0.14" fill="#111">0</text>
<text x="172.58" y="500.5" text-anchor="middle" font-size="6.3" stroke="#111" stroke-width="0.14" fill="#111">1</text>
<text x="210.04" y="500.5" text-anchor="middle" font-size="6.3" stroke="#111" stroke-width="0.14" fill="#111">2</text>
<text x="247.5" y="500.5" text-anchor="middle" font-size="6.3" stroke="#111" stroke-width="0.14" fill="#111">3</text>
<text x="19.75" y="491.9" text-anchor="end" font-size="6.3" stroke="#111" stroke-width="0.14" fill="#111">0</text>
<text x="19.75" y="474.64" text-anchor="end" font-size="6.3" stroke="#111" stroke-width="0.14" fill="#111">2</text>
<text x="19.75" y="457.38" text-anchor="end" font-size="6.3" stroke="#111" stroke-width="0.14" fill="#111">4</text>
<text x="19.75" y="440.12" text-anchor="end" font-size="6.3" stroke="#111" stroke-width="0.14" fill="#111">6</text>
<text x="19.75" y="422.86" text-anchor="end" font-size="6.3" stroke="#111" stroke-width="0.14" fill="#111">8</text>
<text x="19.75" y="405.6" text-anchor="end" font-size="6.3" stroke="#111" stroke-width="0.14" fill="#111">10</text>
<text x="19.75" y="388.34" text-anchor="end" font-size="6.3" stroke="#111" stroke-width="0.14" fill="#111">12</text>
<text x="19.75" y="371.08" text-anchor="end" font-size="6.3" stroke="#111" stroke-width="0.14" fill="#111">14</text>
<text x="19.75" y="353.82" text-anchor="end" font-size="6.3" stroke="#111" stroke-width="0.14" fill="#111">16</text>
<text x="19.75" y="336.56" text-anchor="end" font-size="6.3" stroke="#111" stroke-width="0.14" fill="#111">18</text>
<text x="19.75" y="319.3" text-anchor="end" font-size="6.3" stroke="#111" stroke-width="0.14" fill="#111">20</text>
<text x="19.75" y="302.04" text-anchor="end" font-size="6.3" stroke="#111" stroke-width="0.14" fill="#111">22</text>
<text x="250.3" y="491.9" text-anchor="start" font-size="6.3" stroke="#111" stroke-width="0.14" fill="#111">0.0</text>
<text x="250.3" y="473.85" text-anchor="start" font-size="6.3" stroke="#111" stroke-width="0.14" fill="#111">0.1</text>
<text x="250.3" y="455.81" text-anchor="start" font-size="6.3" stroke="#111" stroke-width="0.14" fill="#111">0.2</text>
<text x="250.3" y="437.76" text-anchor="start" font-size="6.3" stroke="#111" stroke-width="0.14" fill="#111">0.3</text>
<text x="250.3" y="419.72" text-anchor="start" font-size="6.3" stroke="#111" stroke-width="0.14" fill="#111">0.4</text>
<text x="250.3" y="401.67" text-anchor="start" font-size="6.3" stroke="#111" stroke-width="0.14" fill="#111">0.5</text>
<text x="250.3" y="383.63" text-anchor="start" font-size="6.3" stroke="#111" stroke-width="0.14" fill="#111">0.6</text>
<text x="250.3" y="365.58" text-anchor="start" font-size="6.3" stroke="#111" stroke-width="0.14" fill="#111">0.7</text>
<text x="250.3" y="347.54" text-anchor="start" font-size="6.3" stroke="#111" stroke-width="0.14" fill="#111">0.8</text>
<text x="250.3" y="329.49" text-anchor="start" font-size="6.3" stroke="#111" stroke-width="0.14" fill="#111">0.9</text>
<text x="250.3" y="311.45" text-anchor="start" font-size="6.3" stroke="#111" stroke-width="0.14" fill="#111">1.0</text>
<text x="250.3" y="293.4" text-anchor="start" font-size="6.3" stroke="#111" stroke-width="0.14" fill="#111">1.1</text>
<path d="M22.75,487.3v3 M41.48,487.3v3 M60.21,487.3v3 M78.94,487.3v3 M97.67,487.3v3 M116.4,487.3v3 M135.12,487.3v3 M153.85,487.3v3 M172.58,487.3v3 M191.31,487.3v3 M210.04,487.3v3 M228.77,487.3v3 M247.5,487.3v3 M21.25,488.8h3 M21.25,480.17h3 M21.25,471.54h3 M21.25,462.91h3 M21.25,454.28h3 M21.25,445.65h3 M21.25,437.02h3 M21.25,428.39h3 M21.25,419.76h3 M21.25,411.13h3 M21.25,402.5h3 M21.25,393.87h3 M21.25,385.24h3 M21.25,376.61h3 M21.25,367.98h3 M21.25,359.35h3 M21.25,350.72h3 M21.25,342.09h3 M21.25,333.46h3 M21.25,324.83h3 M21.25,316.2h3 M21.25,307.57h3 M21.25,298.94h3 M21.25,290.31h3 M246,488.8h3 M246,479.78h3 M246,470.75h3 M246,461.73h3 M246,452.71h3 M246,443.69h3 M246,434.66h3 M246,425.64h3 M246,416.62h3 M246,407.6h3 M246,398.57h3 M246,389.55h3 M246,380.53h3 M246,371.5h3 M246,362.48h3 M246,353.46h3 M246,344.44h3 M246,335.41h3 M246,326.39h3 M246,317.37h3 M246,308.35h3 M246,299.32h3 M246,290.3h3" stroke="#404040" stroke-width="1.2" fill="none"/>
<text x="153.5" y="285.5" text-anchor="start" font-size="6.4" textLength="43.75" lengthAdjust="spacing" word-spacing="-1.0" transform="scale(0.8,1)" stroke="#111" stroke-width="0.12" fill="#111">Spirituality</text>
<text transform="translate(5.95,392.95) rotate(-90)" text-anchor="middle" font-size="6.5" textLength="41.8" lengthAdjust="spacingAndGlyphs" fill="#111" stroke="#111" stroke-width="0.25">Total Information</text>
<text transform="translate(265.4,385.35) rotate(90)" text-anchor="middle" font-size="6.5" textLength="36.4" lengthAdjust="spacingAndGlyphs" fill="#111" stroke="#111" stroke-width="0.25">Standard Error</text>
<text x="156.81" y="512.2" text-anchor="start" font-size="6.4" textLength="23.5" lengthAdjust="spacing" word-spacing="-1.0" transform="scale(0.8,1)" stroke="#111" stroke-width="0.12" fill="#111">Theta</text>
<path d="M41.35,526H68.75" stroke="#222" stroke-width="0.9" fill="none"/>
<text x="97.19" y="529.6" text-anchor="start" font-size="6.4" textLength="71.62" lengthAdjust="spacing" word-spacing="-2.4" transform="scale(0.8,1)" stroke="#111" stroke-width="0.12" fill="#111">Total Information</text>
<path d="M154.05,525.8H179.35" stroke="#000" stroke-width="1.25" stroke-dasharray="2.1 1.75" fill="none"/>
<text x="238.94" y="529.6" text-anchor="start" font-size="6.4" textLength="62.37" lengthAdjust="spacing" word-spacing="-1.0" transform="scale(0.8,1)" stroke="#111" stroke-width="0.12" fill="#111">Standard Error</text>
<path d="M22.8,477.6 L23.3,477.47 L23.8,477.34 L24.3,477.2 L24.8,477.06 L25.3,476.92 L25.8,476.78 L26.3,476.64 L26.8,476.49 L27.3,476.34 L27.8,476.19 L28.3,476.03 L28.8,475.87 L29.3,475.7 L29.8,475.53 L30.3,475.36 L30.8,475.18 L31.3,474.99 L31.8,474.8 L32.3,474.6 L32.8,474.4 L33.3,474.2 L33.8,473.98 L34.3,473.76 L34.8,473.53 L35.3,473.3 L35.8,473.06 L36.3,472.81 L36.8,472.55 L37.3,472.29 L37.8,472.01 L38.3,471.73 L38.8,471.44 L39.3,471.14 L39.8,470.83 L40.3,470.52 L40.8,470.19 L41.3,469.85 L41.8,469.51 L42.3,469.15 L42.8,468.78 L43.3,468.4 L43.8,468.01 L44.3,467.61 L44.8,467.2 L45.3,466.77 L45.8,466.34 L46.3,465.89 L46.8,465.43 L47.3,464.95 L47.8,464.47 L48.3,463.96 L48.8,463.44 L49.3,462.9 L49.8,462.34 L50.3,461.76 L50.8,461.16 L51.3,460.54 L51.8,459.89 L52.3,459.21 L52.8,458.51 L53.3,457.78 L53.8,457.02 L54.3,456.23 L54.8,455.41 L55.3,454.55 L55.8,453.66 L56.3,452.73 L56.8,451.77 L57.3,450.76 L57.8,449.72 L58.3,448.64 L58.8,447.51 L59.3,446.34 L59.8,445.13 L60.3,443.87 L60.8,442.56 L61.3,441.21 L61.8,439.8 L62.3,438.34 L62.8,436.84 L63.3,435.28 L63.8,433.66 L64.3,432 L64.8,430.27 L65.3,428.49 L65.8,426.65 L66.3,424.75 L66.8,422.8 L67.3,420.78 L67.8,418.72 L68.3,416.61 L68.8,414.46 L69.3,412.28 L69.8,410.04 L70.3,407.76 L70.8,405.42 L71.3,403.01 L71.8,400.53 L72.3,397.98 L72.8,395.34 L73.3,392.61 L73.8,389.79 L74.3,386.86 L74.8,383.87 L75.3,380.84 L75.8,377.81 L76.3,374.82 L76.8,371.91 L77.3,369.07 L77.8,366.29 L78.3,363.59 L78.8,360.96 L79.3,358.39 L79.8,355.89 L80.3,353.46 L80.8,351.09 L81.3,348.78 L81.8,346.54 L82.3,344.36 L82.8,342.24 L83.3,340.18 L83.8,338.18 L84.3,336.24 L84.8,334.36 L85.3,332.53 L85.8,330.75 L86.3,329.03 L86.8,327.36 L87.3,325.74 L87.8,324.18 L88.3,322.66 L88.8,321.19 L89.3,319.77 L89.8,318.4 L90.3,317.07 L90.8,315.79 L91.3,314.55 L91.8,313.36 L92.3,312.2 L92.8,311.09 L93.3,310.02 L93.8,308.98 L94.3,307.99 L94.8,307.03 L95.3,306.11 L95.8,305.23 L96.3,304.38 L96.8,303.56 L97.3,302.78 L97.8,302.04 L98.3,301.32 L98.8,300.64 L99.3,299.98 L99.8,299.36 L100.3,298.77 L100.8,298.2 L101.3,297.66 L101.8,297.15 L102.3,296.66 L102.8,296.2 L103.3,295.76 L103.8,295.34 L104.3,294.95 L104.8,294.58 L105.3,294.23 L105.8,293.9 L106.3,293.59 L106.8,293.29 L107.3,293.02 L107.8,292.76 L108.3,292.52 L108.8,292.29 L109.3,292.09 L109.8,291.9 L110.3,291.73 L110.8,291.57 L111.3,291.43 L111.8,291.31 L112.3,291.21 L112.8,291.12 L113.3,291.05 L113.8,291 L114.3,290.97 L114.8,290.95 L115.3,290.95 L115.8,290.96 L116.3,291 L116.8,291.04 L117.3,291.11 L117.8,291.19 L118.3,291.3 L118.8,291.41 L119.3,291.55 L119.8,291.7 L120.3,291.86 L120.8,292.05 L121.3,292.25 L121.8,292.47 L122.3,292.7 L122.8,292.95 L123.3,293.22 L123.8,293.51 L124.3,293.81 L124.8,294.12 L125.3,294.46 L125.8,294.81 L126.3,295.17 L126.8,295.55 L127.3,295.94 L127.8,296.34 L128.3,296.75 L128.8,297.17 L129.3,297.59 L129.8,298.02 L130.3,298.45 L130.8,298.89 L131.3,299.33 L131.8,299.77 L132.3,300.21 L132.8,300.64 L133.3,301.08 L133.8,301.5 L134.3,301.93 L134.8,302.34 L135.3,302.75 L135.8,303.14 L136.3,303.53 L136.8,303.9 L137.3,304.26 L137.8,304.61 L138.3,304.93 L138.8,305.24 L139.3,305.54 L139.8,305.81 L140.3,306.06 L140.8,306.29 L141.3,306.51 L141.8,306.71 L142.3,306.91 L142.8,307.1 L143.3,307.3 L143.8,307.49 L144.3,307.68 L144.8,307.89 L145.3,308.1 L145.8,308.33 L146.3,308.57 L146.8,308.84 L147.3,309.13 L147.8,309.45 L148.3,309.79 L148.8,310.17 L149.3,310.59 L149.8,311.05 L150.3,311.55 L150.8,312.09 L151.3,312.69 L151.8,313.33 L152.3,314.04 L152.8,314.8 L153.3,315.63 L153.8,316.52 L154.3,317.48 L154.8,318.5 L155.3,319.59 L155.8,320.74 L156.3,321.96 L156.8,323.22 L157.3,324.54 L157.8,325.92 L158.3,327.34 L158.8,328.8 L159.3,330.31 L159.8,331.86 L160.3,333.45 L160.8,335.07 L161.3,336.72 L161.8,338.4 L162.3,340.11 L162.8,341.84 L163.3,343.59 L163.8,345.36 L164.3,347.15 L164.8,348.95 L165.3,350.76 L165.8,352.59 L166.3,354.43 L166.8,356.29 L167.3,358.18 L167.8,360.08 L168.3,362.01 L168.8,363.97 L169.3,365.95 L169.8,367.95 L170.3,369.99 L170.8,372.06 L171.3,374.17 L171.8,376.3 L172.3,378.47 L172.8,380.64 L173.3,382.8 L173.8,384.91 L174.3,386.95 L174.8,388.94 L175.3,390.86 L175.8,392.74 L176.3,394.57 L176.8,396.37 L177.3,398.13 L177.8,399.87 L178.3,401.59 L178.8,403.3 L179.3,405 L179.8,406.7 L180.3,408.41 L180.8,410.13 L181.3,411.86 L181.8,413.6 L182.3,415.34 L182.8,417.07 L183.3,418.79 L183.8,420.49 L184.3,422.16 L184.8,423.8 L185.3,425.4 L185.8,426.98 L186.3,428.52 L186.8,430.03 L187.3,431.52 L187.8,432.97 L188.3,434.39 L188.8,435.78 L189.3,437.14 L189.8,438.47 L190.3,439.78 L190.8,441.05 L191.3,442.29 L191.8,443.51 L192.3,444.69 L192.8,445.85 L193.3,446.98 L193.8,448.08 L194.3,449.15 L194.8,450.2 L195.3,451.21 L195.8,452.2 L196.3,453.17 L196.8,454.1 L197.3,455.01 L197.8,455.89 L198.3,456.75 L198.8,457.58 L199.3,458.38 L199.8,459.16 L200.3,459.92 L200.8,460.65 L201.3,461.35 L201.8,462.04 L202.3,462.7 L202.8,463.34 L203.3,463.95 L203.8,464.55 L204.3,465.12 L204.8,465.68 L205.3,466.21 L205.8,466.73 L206.3,467.22 L206.8,467.7 L207.3,468.16 L207.8,468.61 L208.3,469.03 L208.8,469.44 L209.3,469.84 L209.8,470.22 L210.3,470.58 L210.8,470.93 L211.3,471.27 L211.8,471.59 L212.3,471.9 L212.8,472.2 L213.3,472.49 L213.8,472.76 L214.3,473.03 L214.8,473.28 L215.3,473.52 L215.8,473.76 L216.3,473.98 L216.8,474.2 L217.3,474.41 L217.8,474.61 L218.3,474.81 L218.8,475 L219.3,475.18 L219.8,475.36 L220.3,475.53 L220.8,475.69 L221.3,475.86 L221.8,476.01 L222.3,476.16 L222.8,476.31 L223.3,476.45 L223.8,476.59 L224.3,476.72 L224.8,476.85 L225.3,476.97 L225.8,477.09 L226.3,477.21 L226.8,477.32 L227.3,477.42 L227.8,477.52 L228.3,477.62 L228.8,477.71 L229.3,477.8 L229.8,477.88 L230.3,477.96 L230.8,478.04 L231.3,478.11 L231.8,478.18 L232.3,478.25 L232.8,478.31 L233.3,478.37 L233.8,478.42 L234.3,478.47 L234.8,478.52 L235.3,478.56 L235.8,478.6 L236.3,478.64 L236.8,478.68 L237.3,478.71 L237.8,478.74 L238.3,478.76 L238.8,478.78 L239.3,478.8 L239.8,478.82 L240.3,478.83 L240.8,478.85 L241.3,478.86 L241.8,478.86 L242.3,478.87 L242.8,478.87 L243.3,478.87 L243.8,478.86 L244.3,478.86 L244.8,478.85 L245.3,478.84 L245.8,478.83 L246.3,478.82 L246.8,478.81 L247.3,478.79 L247.5,478.78" stroke="#383838" stroke-width="1" fill="none"/>
<path d="M22.8,327.52 L23.3,328.42 L23.8,329.3 L24.3,330.16 L24.8,331 L25.3,331.82 L25.8,332.62 L26.3,333.42 L26.8,334.2 L27.3,334.99 L27.8,335.77 L28.3,336.55 L28.8,337.33 L29.3,338.12 L29.8,338.92 L30.3,339.73 L30.8,340.55 L31.3,341.39 L31.8,342.26 L32.3,343.14 L32.8,344.05 L33.3,344.99 L33.8,345.96 L34.3,346.96 L34.8,347.97 L35.3,349 L35.8,350.04 L36.3,351.09 L36.8,352.14 L37.3,353.19 L37.8,354.24 L38.3,355.29 L38.8,356.35 L39.3,357.42 L39.8,358.49 L40.3,359.59 L40.8,360.7 L41.3,361.83 L41.8,362.98 L42.3,364.16 L42.8,365.36 L43.3,366.58 L43.8,367.82 L44.3,369.08 L44.8,370.35 L45.3,371.63 L45.8,372.93 L46.3,374.23 L46.8,375.54 L47.3,376.86 L47.8,378.17 L48.3,379.5 L48.8,380.82 L49.3,382.14 L49.8,383.46 L50.3,384.78 L50.8,386.09 L51.3,387.4 L51.8,388.7 L52.3,389.99 L52.8,391.27 L53.3,392.55 L53.8,393.8 L54.3,395.05 L54.8,396.28 L55.3,397.49 L55.8,398.69 L56.3,399.87 L56.8,401.02 L57.3,402.16 L57.8,403.28 L58.3,404.38 L58.8,405.47 L59.3,406.54 L59.8,407.6 L60.3,408.65 L60.8,409.69 L61.3,410.73 L61.8,411.76 L62.3,412.79 L62.8,413.81 L63.3,414.85 L63.8,415.88 L64.3,416.92 L64.8,417.97 L65.3,419.01 L65.8,420.05 L66.3,421.08 L66.8,422.1 L67.3,423.1 L67.8,424.07 L68.3,425.03 L68.8,425.96 L69.3,426.86 L69.8,427.75 L70.3,428.61 L70.8,429.45 L71.3,430.27 L71.8,431.06 L72.3,431.84 L72.8,432.59 L73.3,433.32 L73.8,434.03 L74.3,434.72 L74.8,435.4 L75.3,436.05 L75.8,436.68 L76.3,437.29 L76.8,437.88 L77.3,438.46 L77.8,439.01 L78.3,439.55 L78.8,440.07 L79.3,440.57 L79.8,441.05 L80.3,441.51 L80.8,441.96 L81.3,442.39 L81.8,442.81 L82.3,443.2 L82.8,443.58 L83.3,443.95 L83.8,444.3 L84.3,444.64 L84.8,444.96 L85.3,445.27 L85.8,445.56 L86.3,445.85 L86.8,446.12 L87.3,446.37 L87.8,446.62 L88.3,446.85 L88.8,447.07 L89.3,447.28 L89.8,447.49 L90.3,447.68 L90.8,447.86 L91.3,448.03 L91.8,448.19 L92.3,448.35 L92.8,448.5 L93.3,448.64 L93.8,448.77 L94.3,448.9 L94.8,449.01 L95.3,449.13 L95.8,449.24 L96.3,449.34 L96.8,449.44 L97.3,449.53 L97.8,449.62 L98.3,449.7 L98.8,449.79 L99.3,449.86 L99.8,449.94 L100.3,450.01 L100.8,450.08 L101.3,450.15 L101.8,450.21 L102.3,450.27 L102.8,450.33 L103.3,450.38 L103.8,450.44 L104.3,450.49 L104.8,450.53 L105.3,450.58 L105.8,450.62 L106.3,450.66 L106.8,450.69 L107.3,450.72 L107.8,450.76 L108.3,450.78 L108.8,450.81 L109.3,450.83 L109.8,450.86 L110.3,450.87 L110.8,450.89 L111.3,450.91 L111.8,450.92 L112.3,450.93 L112.8,450.94 L113.3,450.95 L113.8,450.95 L114.3,450.95 L114.8,450.96 L115.3,450.95 L115.8,450.95 L116.3,450.95 L116.8,450.94 L117.3,450.94 L117.8,450.93 L118.3,450.92 L118.8,450.9 L119.3,450.89 L119.8,450.88 L120.3,450.86 L120.8,450.84 L121.3,450.82 L121.8,450.8 L122.3,450.78 L122.8,450.76 L123.3,450.74 L123.8,450.71 L124.3,450.69 L124.8,450.66 L125.3,450.64 L125.8,450.61 L126.3,450.58 L126.8,450.55 L127.3,450.52 L127.8,450.49 L128.3,450.46 L128.8,450.43 L129.3,450.39 L129.8,450.36 L130.3,450.33 L130.8,450.29 L131.3,450.26 L131.8,450.22 L132.3,450.19 L132.8,450.15 L133.3,450.11 L133.8,450.07 L134.3,450.03 L134.8,449.99 L135.3,449.95 L135.8,449.9 L136.3,449.86 L136.8,449.81 L137.3,449.76 L137.8,449.71 L138.3,449.66 L138.8,449.61 L139.3,449.56 L139.8,449.5 L140.3,449.44 L140.8,449.38 L141.3,449.32 L141.8,449.26 L142.3,449.19 L142.8,449.12 L143.3,449.05 L143.8,448.98 L144.3,448.91 L144.8,448.83 L145.3,448.75 L145.8,448.67 L146.3,448.58 L146.8,448.5 L147.3,448.41 L147.8,448.31 L148.3,448.22 L148.8,448.12 L149.3,448.02 L149.8,447.91 L150.3,447.81 L150.8,447.7 L151.3,447.58 L151.8,447.46 L152.3,447.34 L152.8,447.22 L153.3,447.09 L153.8,446.96 L154.3,446.83 L154.8,446.69 L155.3,446.55 L155.8,446.4 L156.3,446.24 L156.8,446.09 L157.3,445.92 L157.8,445.76 L158.3,445.58 L158.8,445.4 L159.3,445.22 L159.8,445.02 L160.3,444.82 L160.8,444.62 L161.3,444.41 L161.8,444.19 L162.3,443.96 L162.8,443.73 L163.3,443.48 L163.8,443.23 L164.3,442.98 L164.8,442.71 L165.3,442.43 L165.8,442.15 L166.3,441.86 L166.8,441.56 L167.3,441.24 L167.8,440.92 L168.3,440.59 L168.8,440.25 L169.3,439.9 L169.8,439.54 L170.3,439.16 L170.8,438.78 L171.3,438.39 L171.8,437.98 L172.3,437.56 L172.8,437.13 L173.3,436.69 L173.8,436.24 L174.3,435.77 L174.8,435.29 L175.3,434.8 L175.8,434.3 L176.3,433.78 L176.8,433.25 L177.3,432.7 L177.8,432.14 L178.3,431.57 L178.8,430.98 L179.3,430.38 L179.8,429.77 L180.3,429.14 L180.8,428.49 L181.3,427.83 L181.8,427.16 L182.3,426.47 L182.8,425.77 L183.3,425.05 L183.8,424.31 L184.3,423.56 L184.8,422.8 L185.3,422.02 L185.8,421.22 L186.3,420.41 L186.8,419.58 L187.3,418.73 L187.8,417.87 L188.3,416.99 L188.8,416.1 L189.3,415.19 L189.8,414.26 L190.3,413.32 L190.8,412.36 L191.3,411.39 L191.8,410.4 L192.3,409.4 L192.8,408.39 L193.3,407.38 L193.8,406.35 L194.3,405.32 L194.8,404.28 L195.3,403.24 L195.8,402.19 L196.3,401.14 L196.8,400.09 L197.3,399.05 L197.8,398 L198.3,396.96 L198.8,395.92 L199.3,394.88 L199.8,393.86 L200.3,392.84 L200.8,391.81 L201.3,390.79 L201.8,389.75 L202.3,388.7 L202.8,387.63 L203.3,386.53 L203.8,385.4 L204.3,384.24 L204.8,383.04 L205.3,381.83 L205.8,380.59 L206.3,379.34 L206.8,378.1 L207.3,376.85 L207.8,375.61 L208.3,374.38 L208.8,373.16 L209.3,371.95 L209.8,370.75 L210.3,369.55 L210.8,368.37 L211.3,367.18 L211.8,366.01 L212.3,364.84 L212.8,363.68 L213.3,362.53 L213.8,361.38 L214.3,360.23 L214.8,359.1 L215.3,357.96 L215.8,356.84 L216.3,355.71 L216.8,354.59 L217.3,353.48 L217.8,352.37 L218.3,351.26 L218.8,350.15 L219.3,349.05 L219.8,347.96 L220.3,346.86 L220.8,345.77 L221.3,344.69 L221.8,343.62 L222.3,342.56 L222.8,341.53 L223.3,340.53 L223.8,339.55 L224.3,338.62 L224.8,337.72 L225.3,336.86 L225.8,336.03 L226.3,335.24 L226.8,334.47 L227.3,333.74 L227.8,333.02 L228.3,332.33 L228.8,331.65 L229.3,330.99 L229.8,330.34 L230.3,329.7 L230.8,329.08 L231.3,328.46 L231.8,327.86 L232.3,327.26 L232.8,326.68 L233.3,326.12 L233.8,325.56 L234.3,325.02 L234.8,324.49 L235.3,323.97 L235.8,323.47 L236.3,322.98 L236.8,322.5 L237.3,322.04 L237.8,321.59 L238.3,321.15 L238.8,320.73 L239.3,320.32 L239.8,319.93 L240.3,319.56 L240.8,319.19 L241.3,318.85 L241.8,318.52 L242.3,318.2 L242.8,317.9 L243.3,317.62 L243.8,317.35 L244.3,317.1 L244.8,316.86 L245.3,316.64 L245.8,316.44 L246.3,316.26 L246.8,316.09 L247.3,315.94 L247.5,315.89" stroke="#111" stroke-width="1.1" stroke-dasharray="2.5 2.05" fill="none"/></g>
<g><path d="M314.6,286.8 H538.8 V485.6 H314.6 Z" fill="none" stroke="#404040" stroke-width="1.15"/>
<text x="314.6" y="497.3" text-anchor="middle" font-size="6.3" stroke="#111" stroke-width="0.14" fill="#111">-3</text>
<text x="351.97" y="497.3" text-anchor="middle" font-size="6.3" stroke="#111" stroke-width="0.14" fill="#111">-2</text>
<text x="389.33" y="497.3" text-anchor="middle" font-size="6.3" stroke="#111" stroke-width="0.14" fill="#111">-1</text>
<text x="426.7" y="497.3" text-anchor="middle" font-size="6.3" stroke="#111" stroke-width="0.14" fill="#111">0</text>
<text x="464.07" y="497.3" text-anchor="middle" font-size="6.3" stroke="#111" stroke-width="0.14" fill="#111">1</text>
<text x="501.43" y="497.3" text-anchor="middle" font-size="6.3" stroke="#111" stroke-width="0.14" fill="#111">2</text>
<text x="538.8" y="497.3" text-anchor="middle" font-size="6.3" stroke="#111" stroke-width="0.14" fill="#111">3</text>
<text x="311.6" y="488.7" text-anchor="end" font-size="6.3" stroke="#111" stroke-width="0.14" fill="#111">0</text>
<text x="311.6" y="473.45" text-anchor="end" font-size="6.3" stroke="#111" stroke-width="0.14" fill="#111">1</text>
<text x="311.6" y="458.2" text-anchor="end" font-size="6.3" stroke="#111" stroke-width="0.14" fill="#111">2</text>
<text x="311.6" y="442.95" text-anchor="end" font-size="6.3" stroke="#111" stroke-width="0.14" fill="#111">3</text>
<text x="311.6" y="427.7" text-anchor="end" font-size="6.3" stroke="#111" stroke-width="0.14" fill="#111">4</text>
<text x="311.6" y="412.45" text-anchor="end" font-size="6.3" stroke="#111" stroke-width="0.14" fill="#111">5</text>
<text x="311.6" y="397.2" text-anchor="end" font-size="6.3" stroke="#111" stroke-width="0.14" fill="#111">6</text>
<text x="311.6" y="381.95" text-anchor="end" font-size="6.3" stroke="#111" stroke-width="0.14" fill="#111">7</text>
<text x="311.6" y="366.7" text-anchor="end" font-size="6.3" stroke="#111" stroke-width="0.14" fill="#111">8</text>
<text x="311.6" y="351.45" text-anchor="end" font-size="6.3" stroke="#111" stroke-width="0.14" fill="#111">9</text>
<text x="311.6" y="336.2" text-anchor="end" font-size="6.3" stroke="#111" stroke-width="0.14" fill="#111">10</text>
<text x="311.6" y="320.95" text-anchor="end" font-size="6.3" stroke="#111" stroke-width="0.14" fill="#111">11</text>
<text x="311.6" y="305.7" text-anchor="end" font-size="6.3" stroke="#111" stroke-width="0.14" fill="#111">12</text>
<text x="311.6" y="290.45" text-anchor="end" font-size="6.3" stroke="#111" stroke-width="0.14" fill="#111">13</text>
<text x="541.6" y="488.7" text-anchor="start" font-size="6.3" stroke="#111" stroke-width="0.14" fill="#111">0.0</text>
<text x="541.6" y="466.61" text-anchor="start" font-size="6.3" stroke="#111" stroke-width="0.14" fill="#111">0.1</text>
<text x="541.6" y="444.52" text-anchor="start" font-size="6.3" stroke="#111" stroke-width="0.14" fill="#111">0.2</text>
<text x="541.6" y="422.43" text-anchor="start" font-size="6.3" stroke="#111" stroke-width="0.14" fill="#111">0.3</text>
<text x="541.6" y="400.34" text-anchor="start" font-size="6.3" stroke="#111" stroke-width="0.14" fill="#111">0.4</text>
<text x="541.6" y="378.26" text-anchor="start" font-size="6.3" stroke="#111" stroke-width="0.14" fill="#111">0.5</text>
<text x="541.6" y="356.17" text-anchor="start" font-size="6.3" stroke="#111" stroke-width="0.14" fill="#111">0.6</text>
<text x="541.6" y="334.08" text-anchor="start" font-size="6.3" stroke="#111" stroke-width="0.14" fill="#111">0.7</text>
<text x="541.6" y="311.99" text-anchor="start" font-size="6.3" stroke="#111" stroke-width="0.14" fill="#111">0.8</text>
<text x="541.6" y="289.9" text-anchor="start" font-size="6.3" stroke="#111" stroke-width="0.14" fill="#111">0.9</text>
<path d="M314.6,484.1v3 M333.28,484.1v3 M351.97,484.1v3 M370.65,484.1v3 M389.33,484.1v3 M408.02,484.1v3 M426.7,484.1v3 M445.38,484.1v3 M464.07,484.1v3 M482.75,484.1v3 M501.43,484.1v3 M520.12,484.1v3 M538.8,484.1v3 M313.1,485.6h3 M313.1,477.98h3 M313.1,470.35h3 M313.1,462.73h3 M313.1,455.1h3 M313.1,447.48h3 M313.1,439.85h3 M313.1,432.23h3 M313.1,424.6h3 M313.1,416.98h3 M313.1,409.35h3 M313.1,401.73h3 M313.1,394.1h3 M313.1,386.48h3 M313.1,378.85h3 M313.1,371.23h3 M313.1,363.6h3 M313.1,355.98h3 M313.1,348.35h3 M313.1,340.73h3 M313.1,333.1h3 M313.1,325.48h3 M313.1,317.85h3 M313.1,310.23h3 M313.1,302.6h3 M313.1,294.98h3 M313.1,287.35h3 M537.3,485.6h3 M537.3,474.56h3 M537.3,463.51h3 M537.3,452.47h3 M537.3,441.42h3 M537.3,430.38h3 M537.3,419.33h3 M537.3,408.29h3 M537.3,397.24h3 M537.3,386.2h3 M537.3,375.16h3 M537.3,364.11h3 M537.3,353.07h3 M537.3,342.02h3 M537.3,330.98h3 M537.3,319.93h3 M537.3,308.89h3 M537.3,297.84h3 M537.3,286.8h3" stroke="#404040" stroke-width="1.2" fill="none"/>
<text x="501.5" y="282" text-anchor="start" font-size="6.4" textLength="77.75" lengthAdjust="spacing" word-spacing="-1.0" transform="scale(0.8,1)" stroke="#111" stroke-width="0.12" fill="#111">Interpersonal skills</text>
<text transform="translate(297.8,389.6) rotate(-90)" text-anchor="middle" font-size="6.5" textLength="41.8" lengthAdjust="spacingAndGlyphs" fill="#111" stroke="#111" stroke-width="0.25">Total Information</text>
<text transform="translate(556.7,382) rotate(90)" text-anchor="middle" font-size="6.5" textLength="36.4" lengthAdjust="spacingAndGlyphs" fill="#111" stroke="#111" stroke-width="0.25">Standard Error</text>
<text x="521.62" y="509" text-anchor="start" font-size="6.4" textLength="23.5" lengthAdjust="spacing" word-spacing="-1.0" transform="scale(0.8,1)" stroke="#111" stroke-width="0.12" fill="#111">Theta</text>
<path d="M333.2,522.8H360.6" stroke="#222" stroke-width="0.9" fill="none"/>
<text x="462" y="526.4" text-anchor="start" font-size="6.4" textLength="71.62" lengthAdjust="spacing" word-spacing="-2.4" transform="scale(0.8,1)" stroke="#111" stroke-width="0.12" fill="#111">Total Information</text>
<path d="M445.9,522.6H471.2" stroke="#000" stroke-width="1.25" stroke-dasharray="2.1 1.75" fill="none"/>
<text x="603.75" y="526.4" text-anchor="start" font-size="6.4" textLength="62.37" lengthAdjust="spacing" word-spacing="-1.0" transform="scale(0.8,1)" stroke="#111" stroke-width="0.12" fill="#111">Standard Error</text>
<path d="M314.6,400.85 L315.1,399.47 L315.6,398.1 L316.1,396.74 L316.6,395.38 L317.1,394.04 L317.6,392.71 L318.1,391.39 L318.6,390.07 L319.1,388.76 L319.6,387.46 L320.1,386.16 L320.6,384.87 L321.1,383.58 L321.6,382.3 L322.1,381.02 L322.6,379.75 L323.1,378.48 L323.6,377.22 L324.1,375.95 L324.6,374.69 L325.1,373.43 L325.6,372.17 L326.1,370.91 L326.6,369.65 L327.1,368.39 L327.6,367.14 L328.1,365.87 L328.6,364.61 L329.1,363.35 L329.6,362.08 L330.1,360.81 L330.6,359.54 L331.1,358.26 L331.6,356.97 L332.1,355.69 L332.6,354.39 L333.1,353.09 L333.6,351.79 L334.1,350.48 L334.6,349.16 L335.1,347.83 L335.6,346.49 L336.1,345.15 L336.6,343.8 L337.1,342.45 L337.6,341.1 L338.1,339.75 L338.6,338.39 L339.1,337.04 L339.6,335.7 L340.1,334.36 L340.6,333.02 L341.1,331.7 L341.6,330.38 L342.1,329.08 L342.6,327.79 L343.1,326.52 L343.6,325.26 L344.1,324.02 L344.6,322.8 L345.1,321.6 L345.6,320.43 L346.1,319.27 L346.6,318.15 L347.1,317.05 L347.6,315.97 L348.1,314.92 L348.6,313.9 L349.1,312.9 L349.6,311.93 L350.1,310.98 L350.6,310.05 L351.1,309.15 L351.6,308.28 L352.1,307.43 L352.6,306.6 L353.1,305.8 L353.6,305.02 L354.1,304.27 L354.6,303.54 L355.1,302.83 L355.6,302.14 L356.1,301.48 L356.6,300.84 L357.1,300.23 L357.6,299.63 L358.1,299.06 L358.6,298.51 L359.1,297.98 L359.6,297.48 L360.1,296.99 L360.6,296.53 L361.1,296.09 L361.6,295.66 L362.1,295.25 L362.6,294.87 L363.1,294.5 L363.6,294.14 L364.1,293.81 L364.6,293.49 L365.1,293.19 L365.6,292.9 L366.1,292.63 L366.6,292.37 L367.1,292.12 L367.6,291.89 L368.1,291.67 L368.6,291.47 L369.1,291.27 L369.6,291.09 L370.1,290.92 L370.6,290.75 L371.1,290.6 L371.6,290.46 L372.1,290.32 L372.6,290.2 L373.1,290.08 L373.6,289.97 L374.1,289.87 L374.6,289.77 L375.1,289.68 L375.6,289.6 L376.1,289.52 L376.6,289.45 L377.1,289.39 L377.6,289.34 L378.1,289.29 L378.6,289.25 L379.1,289.21 L379.6,289.18 L380.1,289.16 L380.6,289.14 L381.1,289.13 L381.6,289.12 L382.1,289.12 L382.6,289.12 L383.1,289.13 L383.6,289.15 L384.1,289.17 L384.6,289.2 L385.1,289.23 L385.6,289.27 L386.1,289.31 L386.6,289.36 L387.1,289.41 L387.6,289.46 L388.1,289.53 L388.6,289.59 L389.1,289.66 L389.6,289.73 L390.1,289.81 L390.6,289.89 L391.1,289.98 L391.6,290.07 L392.1,290.16 L392.6,290.26 L393.1,290.36 L393.6,290.46 L394.1,290.56 L394.6,290.67 L395.1,290.78 L395.6,290.89 L396.1,291 L396.6,291.12 L397.1,291.23 L397.6,291.35 L398.1,291.47 L398.6,291.59 L399.1,291.7 L399.6,291.82 L400.1,291.94 L400.6,292.06 L401.1,292.18 L401.6,292.3 L402.1,292.42 L402.6,292.54 L403.1,292.65 L403.6,292.77 L404.1,292.88 L404.6,292.99 L405.1,293.1 L405.6,293.21 L406.1,293.32 L406.6,293.42 L407.1,293.52 L407.6,293.62 L408.1,293.71 L408.6,293.8 L409.1,293.89 L409.6,293.98 L410.1,294.06 L410.6,294.14 L411.1,294.22 L411.6,294.3 L412.1,294.38 L412.6,294.46 L413.1,294.54 L413.6,294.62 L414.1,294.7 L414.6,294.79 L415.1,294.88 L415.6,294.98 L416.1,295.08 L416.6,295.19 L417.1,295.3 L417.6,295.42 L418.1,295.55 L418.6,295.69 L419.1,295.83 L419.6,295.98 L420.1,296.15 L420.6,296.31 L421.1,296.49 L421.6,296.67 L422.1,296.86 L422.6,297.06 L423.1,297.26 L423.6,297.47 L424.1,297.68 L424.6,297.89 L425.1,298.11 L425.6,298.34 L426.1,298.57 L426.6,298.8 L427.1,299.03 L427.6,299.27 L428.1,299.51 L428.6,299.75 L429.1,299.99 L429.6,300.23 L430.1,300.47 L430.6,300.72 L431.1,300.96 L431.6,301.2 L432.1,301.45 L432.6,301.69 L433.1,301.93 L433.6,302.17 L434.1,302.4 L434.6,302.63 L435.1,302.86 L435.6,303.09 L436.1,303.31 L436.6,303.53 L437.1,303.75 L437.6,303.96 L438.1,304.16 L438.6,304.36 L439.1,304.55 L439.6,304.74 L440.1,304.92 L440.6,305.09 L441.1,305.26 L441.6,305.41 L442.1,305.56 L442.6,305.71 L443.1,305.84 L443.6,305.97 L444.1,306.09 L444.6,306.21 L445.1,306.33 L445.6,306.44 L446.1,306.55 L446.6,306.66 L447.1,306.77 L447.6,306.88 L448.1,306.99 L448.6,307.1 L449.1,307.21 L449.6,307.33 L450.1,307.45 L450.6,307.58 L451.1,307.71 L451.6,307.85 L452.1,308 L452.6,308.16 L453.1,308.32 L453.6,308.5 L454.1,308.68 L454.6,308.88 L455.1,309.09 L455.6,309.31 L456.1,309.55 L456.6,309.8 L457.1,310.07 L457.6,310.35 L458.1,310.65 L458.6,310.97 L459.1,311.31 L459.6,311.66 L460.1,312.04 L460.6,312.44 L461.1,312.86 L461.6,313.3 L462.1,313.77 L462.6,314.26 L463.1,314.77 L463.6,315.31 L464.1,315.87 L464.6,316.46 L465.1,317.08 L465.6,317.72 L466.1,318.39 L466.6,319.09 L467.1,319.81 L467.6,320.57 L468.1,321.36 L468.6,322.18 L469.1,323.03 L469.6,323.91 L470.1,324.82 L470.6,325.77 L471.1,326.75 L471.6,327.76 L472.1,328.81 L472.6,329.89 L473.1,331 L473.6,332.15 L474.1,333.32 L474.6,334.53 L475.1,335.76 L475.6,337.02 L476.1,338.31 L476.6,339.63 L477.1,340.97 L477.6,342.34 L478.1,343.74 L478.6,345.15 L479.1,346.6 L479.6,348.06 L480.1,349.54 L480.6,351.05 L481.1,352.58 L481.6,354.12 L482.1,355.69 L482.6,357.27 L483.1,358.86 L483.6,360.46 L484.1,362.07 L484.6,363.69 L485.1,365.31 L485.6,366.94 L486.1,368.56 L486.6,370.18 L487.1,371.79 L487.6,373.4 L488.1,374.99 L488.6,376.57 L489.1,378.14 L489.6,379.7 L490.1,381.23 L490.6,382.74 L491.1,384.23 L491.6,385.69 L492.1,387.12 L492.6,388.53 L493.1,389.92 L493.6,391.28 L494.1,392.62 L494.6,393.94 L495.1,395.25 L495.6,396.53 L496.1,397.8 L496.6,399.06 L497.1,400.3 L497.6,401.53 L498.1,402.75 L498.6,403.96 L499.1,405.16 L499.6,406.36 L500.1,407.55 L500.6,408.73 L501.1,409.91 L501.6,411.09 L502.1,412.27 L502.6,413.45 L503.1,414.63 L503.6,415.8 L504.1,416.97 L504.6,418.13 L505.1,419.29 L505.6,420.43 L506.1,421.56 L506.6,422.69 L507.1,423.8 L507.6,424.89 L508.1,425.97 L508.6,427.03 L509.1,428.08 L509.6,429.1 L510.1,430.11 L510.6,431.09 L511.1,432.05 L511.6,432.98 L512.1,433.89 L512.6,434.77 L513.1,435.62 L513.6,436.45 L514.1,437.26 L514.6,438.04 L515.1,438.8 L515.6,439.54 L516.1,440.26 L516.6,440.96 L517.1,441.64 L517.6,442.31 L518.1,442.95 L518.6,443.59 L519.1,444.21 L519.6,444.81 L520.1,445.4 L520.6,445.98 L521.1,446.55 L521.6,447.11 L522.1,447.65 L522.6,448.18 L523.1,448.7 L523.6,449.21 L524.1,449.71 L524.6,450.2 L525.1,450.67 L525.6,451.14 L526.1,451.59 L526.6,452.04 L527.1,452.47 L527.6,452.89 L528.1,453.3 L528.6,453.71 L529.1,454.1 L529.6,454.49 L530.1,454.86 L530.6,455.22 L531.1,455.58 L531.6,455.93 L532.1,456.26 L532.6,456.59 L533.1,456.91 L533.6,457.23 L534.1,457.53 L534.6,457.83 L535.1,458.11 L535.6,458.39 L536.1,458.66 L536.6,458.93 L537.1,459.18 L537.6,459.43 L538.1,459.68 L538.6,459.91 L538.7,459.96" stroke="#383838" stroke-width="1" fill="none"/>
<path d="M314.6,392.36 L315.1,393.01 L315.6,393.65 L316.1,394.29 L316.6,394.91 L317.1,395.53 L317.6,396.14 L318.1,396.75 L318.6,397.34 L319.1,397.93 L319.6,398.51 L320.1,399.09 L320.6,399.66 L321.1,400.22 L321.6,400.77 L322.1,401.31 L322.6,401.85 L323.1,402.38 L323.6,402.91 L324.1,403.42 L324.6,403.93 L325.1,404.44 L325.6,404.93 L326.1,405.42 L326.6,405.9 L327.1,406.37 L327.6,406.84 L328.1,407.3 L328.6,407.75 L329.1,408.19 L329.6,408.63 L330.1,409.06 L330.6,409.48 L331.1,409.9 L331.6,410.3 L332.1,410.7 L332.6,411.1 L333.1,411.49 L333.6,411.86 L334.1,412.24 L334.6,412.6 L335.1,412.96 L335.6,413.31 L336.1,413.65 L336.6,413.99 L337.1,414.32 L337.6,414.64 L338.1,414.96 L338.6,415.27 L339.1,415.57 L339.6,415.86 L340.1,416.15 L340.6,416.43 L341.1,416.7 L341.6,416.97 L342.1,417.23 L342.6,417.48 L343.1,417.72 L343.6,417.96 L344.1,418.19 L344.6,418.42 L345.1,418.64 L345.6,418.85 L346.1,419.06 L346.6,419.26 L347.1,419.46 L347.6,419.65 L348.1,419.83 L348.6,420.01 L349.1,420.18 L349.6,420.35 L350.1,420.51 L350.6,420.67 L351.1,420.82 L351.6,420.96 L352.1,421.1 L352.6,421.24 L353.1,421.37 L353.6,421.5 L354.1,421.62 L354.6,421.74 L355.1,421.85 L355.6,421.96 L356.1,422.06 L356.6,422.16 L357.1,422.26 L357.6,422.35 L358.1,422.44 L358.6,422.52 L359.1,422.61 L359.6,422.68 L360.1,422.76 L360.6,422.83 L361.1,422.89 L361.6,422.96 L362.1,423.02 L362.6,423.08 L363.1,423.13 L363.6,423.18 L364.1,423.23 L364.6,423.28 L365.1,423.32 L365.6,423.37 L366.1,423.41 L366.6,423.44 L367.1,423.48 L367.6,423.51 L368.1,423.54 L368.6,423.57 L369.1,423.6 L369.6,423.62 L370.1,423.65 L370.6,423.67 L371.1,423.69 L371.6,423.71 L372.1,423.73 L372.6,423.75 L373.1,423.76 L373.6,423.78 L374.1,423.79 L374.6,423.8 L375.1,423.81 L375.6,423.82 L376.1,423.83 L376.6,423.84 L377.1,423.85 L377.6,423.85 L378.1,423.85 L378.6,423.86 L379.1,423.86 L379.6,423.86 L380.1,423.86 L380.6,423.86 L381.1,423.86 L381.6,423.86 L382.1,423.85 L382.6,423.85 L383.1,423.84 L383.6,423.84 L384.1,423.83 L384.6,423.82 L385.1,423.81 L385.6,423.8 L386.1,423.79 L386.6,423.78 L387.1,423.77 L387.6,423.75 L388.1,423.74 L388.6,423.73 L389.1,423.71 L389.6,423.7 L390.1,423.68 L390.6,423.66 L391.1,423.65 L391.6,423.63 L392.1,423.61 L392.6,423.59 L393.1,423.57 L393.6,423.55 L394.1,423.53 L394.6,423.51 L395.1,423.49 L395.6,423.46 L396.1,423.44 L396.6,423.42 L397.1,423.4 L397.6,423.37 L398.1,423.35 L398.6,423.32 L399.1,423.3 L399.6,423.27 L400.1,423.25 L400.6,423.22 L401.1,423.2 L401.6,423.17 L402.1,423.14 L402.6,423.12 L403.1,423.09 L403.6,423.06 L404.1,423.04 L404.6,423.01 L405.1,422.98 L405.6,422.95 L406.1,422.93 L406.6,422.9 L407.1,422.87 L407.6,422.84 L408.1,422.82 L408.6,422.79 L409.1,422.76 L409.6,422.73 L410.1,422.7 L410.6,422.68 L411.1,422.65 L411.6,422.62 L412.1,422.6 L412.6,422.57 L413.1,422.54 L413.6,422.52 L414.1,422.49 L414.6,422.46 L415.1,422.44 L415.6,422.41 L416.1,422.39 L416.6,422.36 L417.1,422.34 L417.6,422.31 L418.1,422.29 L418.6,422.26 L419.1,422.24 L419.6,422.22 L420.1,422.2 L420.6,422.17 L421.1,422.15 L421.6,422.13 L422.1,422.11 L422.6,422.09 L423.1,422.07 L423.6,422.05 L424.1,422.03 L424.6,422.01 L425.1,421.99 L425.6,421.97 L426.1,421.95 L426.6,421.93 L427.1,421.92 L427.6,421.9 L428.1,421.88 L428.6,421.86 L429.1,421.84 L429.6,421.83 L430.1,421.81 L430.6,421.79 L431.1,421.78 L431.6,421.76 L432.1,421.74 L432.6,421.73 L433.1,421.71 L433.6,421.69 L434.1,421.68 L434.6,421.66 L435.1,421.64 L435.6,421.63 L436.1,421.61 L436.6,421.6 L437.1,421.58 L437.6,421.56 L438.1,421.55 L438.6,421.53 L439.1,421.51 L439.6,421.5 L440.1,421.48 L440.6,421.46 L441.1,421.44 L441.6,421.43 L442.1,421.41 L442.6,421.39 L443.1,421.37 L443.6,421.36 L444.1,421.34 L444.6,421.32 L445.1,421.3 L445.6,421.28 L446.1,421.26 L446.6,421.24 L447.1,421.22 L447.6,421.2 L448.1,421.18 L448.6,421.15 L449.1,421.13 L449.6,421.1 L450.1,421.07 L450.6,421.04 L451.1,421.01 L451.6,420.97 L452.1,420.93 L452.6,420.89 L453.1,420.84 L453.6,420.8 L454.1,420.74 L454.6,420.68 L455.1,420.62 L455.6,420.56 L456.1,420.49 L456.6,420.41 L457.1,420.33 L457.6,420.24 L458.1,420.15 L458.6,420.05 L459.1,419.95 L459.6,419.83 L460.1,419.72 L460.6,419.59 L461.1,419.46 L461.6,419.32 L462.1,419.17 L462.6,419.02 L463.1,418.86 L463.6,418.69 L464.1,418.51 L464.6,418.32 L465.1,418.12 L465.6,417.92 L466.1,417.71 L466.6,417.49 L467.1,417.27 L467.6,417.04 L468.1,416.8 L468.6,416.55 L469.1,416.3 L469.6,416.04 L470.1,415.77 L470.6,415.49 L471.1,415.21 L471.6,414.93 L472.1,414.63 L472.6,414.34 L473.1,414.03 L473.6,413.72 L474.1,413.4 L474.6,413.08 L475.1,412.75 L475.6,412.42 L476.1,412.08 L476.6,411.74 L477.1,411.39 L477.6,411.03 L478.1,410.67 L478.6,410.31 L479.1,409.94 L479.6,409.57 L480.1,409.19 L480.6,408.81 L481.1,408.42 L481.6,408.03 L482.1,407.64 L482.6,407.24 L483.1,406.84 L483.6,406.43 L484.1,406.02 L484.6,405.61 L485.1,405.19 L485.6,404.77 L486.1,404.34 L486.6,403.91 L487.1,403.48 L487.6,403.04 L488.1,402.59 L488.6,402.14 L489.1,401.67 L489.6,401.2 L490.1,400.71 L490.6,400.21 L491.1,399.7 L491.6,399.17 L492.1,398.63 L492.6,398.06 L493.1,397.48 L493.6,396.89 L494.1,396.27 L494.6,395.62 L495.1,394.96 L495.6,394.27 L496.1,393.56 L496.6,392.82 L497.1,392.06 L497.6,391.27 L498.1,390.47 L498.6,389.65 L499.1,388.81 L499.6,387.96 L500.1,387.09 L500.6,386.22 L501.1,385.33 L501.6,384.44 L502.1,383.55 L502.6,382.65 L503.1,381.76 L503.6,380.86 L504.1,379.97 L504.6,379.08 L505.1,378.2 L505.6,377.33 L506.1,376.46 L506.6,375.61 L507.1,374.78 L507.6,373.96 L508.1,373.14 L508.6,372.33 L509.1,371.53 L509.6,370.72 L510.1,369.91 L510.6,369.1 L511.1,368.28 L511.6,367.44 L512.1,366.59 L512.6,365.73 L513.1,364.85 L513.6,363.94 L514.1,363.01 L514.6,362.05 L515.1,361.06 L515.6,360.03 L516.1,358.97 L516.6,357.89 L517.1,356.78 L517.6,355.66 L518.1,354.53 L518.6,353.4 L519.1,352.28 L519.6,351.17 L520.1,350.07 L520.6,349 L521.1,347.95 L521.6,346.93 L522.1,345.93 L522.6,344.94 L523.1,343.97 L523.6,343.01 L524.1,342.06 L524.6,341.12 L525.1,340.18 L525.6,339.24 L526.1,338.3 L526.6,337.35 L527.1,336.4 L527.6,335.43 L528.1,334.45 L528.6,333.47 L529.1,332.48 L529.6,331.49 L530.1,330.49 L530.6,329.49 L531.1,328.48 L531.6,327.47 L532.1,326.46 L532.6,325.46 L533.1,324.45 L533.6,323.45 L534.1,322.45 L534.6,321.45 L535.1,320.46 L535.6,319.48 L536.1,318.51 L536.6,317.54 L537.1,316.59 L537.6,315.64 L538.1,314.71 L538.6,313.79" stroke="#111" stroke-width="1.1" stroke-dasharray="2.5 2.05" fill="none"/></g>
<g><path d="M22.75,572.5 H247.5 V771.1 H22.75 Z" fill="none" stroke="#404040" stroke-width="1.15"/>
<text x="22.75" y="782.8" text-anchor="middle" font-size="6.3" stroke="#111" stroke-width="0.14" fill="#111">-3</text>
<text x="60.21" y="782.8" text-anchor="middle" font-size="6.3" stroke="#111" stroke-width="0.14" fill="#111">-2</text>
<text x="97.67" y="782.8" text-anchor="middle" font-size="6.3" stroke="#111" stroke-width="0.14" fill="#111">-1</text>
<text x="135.12" y="782.8" text-anchor="middle" font-size="6.3" stroke="#111" stroke-width="0.14" fill="#111">0</text>
<text x="172.58" y="782.8" text-anchor="middle" font-size="6.3" stroke="#111" stroke-width="0.14" fill="#111">1</text>
<text x="210.04" y="782.8" text-anchor="middle" font-size="6.3" stroke="#111" stroke-width="0.14" fill="#111">2</text>
<text x="247.5" y="782.8" text-anchor="middle" font-size="6.3" stroke="#111" stroke-width="0.14" fill="#111">3</text>
<text x="19.75" y="774.2" text-anchor="end" font-size="6.3" stroke="#111" stroke-width="0.14" fill="#111">0</text>
<text x="19.75" y="752.76" text-anchor="end" font-size="6.3" stroke="#111" stroke-width="0.14" fill="#111">2</text>
<text x="19.75" y="731.32" text-anchor="end" font-size="6.3" stroke="#111" stroke-width="0.14" fill="#111">4</text>
<text x="19.75" y="709.88" text-anchor="end" font-size="6.3" stroke="#111" stroke-width="0.14" fill="#111">6</text>
<text x="19.75" y="688.44" text-anchor="end" font-size="6.3" stroke="#111" stroke-width="0.14" fill="#111">8</text>
<text x="19.75" y="667" text-anchor="end" font-size="6.3" stroke="#111" stroke-width="0.14" fill="#111">10</text>
<text x="19.75" y="645.56" text-anchor="end" font-size="6.3" stroke="#111" stroke-width="0.14" fill="#111">12</text>
<text x="19.75" y="624.12" text-anchor="end" font-size="6.3" stroke="#111" stroke-width="0.14" fill="#111">14</text>
<text x="19.75" y="602.68" text-anchor="end" font-size="6.3" stroke="#111" stroke-width="0.14" fill="#111">16</text>
<text x="19.75" y="581.24" text-anchor="end" font-size="6.3" stroke="#111" stroke-width="0.14" fill="#111">18</text>
<text x="250.3" y="774.2" text-anchor="start" font-size="6.3" stroke="#111" stroke-width="0.14" fill="#111">0.0</text>
<text x="250.3" y="754.34" text-anchor="start" font-size="6.3" stroke="#111" stroke-width="0.14" fill="#111">0.1</text>
<text x="250.3" y="734.48" text-anchor="start" font-size="6.3" stroke="#111" stroke-width="0.14" fill="#111">0.2</text>
<text x="250.3" y="714.62" text-anchor="start" font-size="6.3" stroke="#111" stroke-width="0.14" fill="#111">0.3</text>
<text x="250.3" y="694.76" text-anchor="start" font-size="6.3" stroke="#111" stroke-width="0.14" fill="#111">0.4</text>
<text x="250.3" y="674.9" text-anchor="start" font-size="6.3" stroke="#111" stroke-width="0.14" fill="#111">0.5</text>
<text x="250.3" y="655.04" text-anchor="start" font-size="6.3" stroke="#111" stroke-width="0.14" fill="#111">0.6</text>
<text x="250.3" y="635.18" text-anchor="start" font-size="6.3" stroke="#111" stroke-width="0.14" fill="#111">0.7</text>
<text x="250.3" y="615.32" text-anchor="start" font-size="6.3" stroke="#111" stroke-width="0.14" fill="#111">0.8</text>
<text x="250.3" y="595.46" text-anchor="start" font-size="6.3" stroke="#111" stroke-width="0.14" fill="#111">0.9</text>
<text x="250.3" y="575.6" text-anchor="start" font-size="6.3" stroke="#111" stroke-width="0.14" fill="#111">1.0</text>
<path d="M22.75,769.6v3 M41.48,769.6v3 M60.21,769.6v3 M78.94,769.6v3 M97.67,769.6v3 M116.4,769.6v3 M135.12,769.6v3 M153.85,769.6v3 M172.58,769.6v3 M191.31,769.6v3 M210.04,769.6v3 M228.77,769.6v3 M247.5,769.6v3 M21.25,771.1h3 M21.25,760.38h3 M21.25,749.66h3 M21.25,738.94h3 M21.25,728.22h3 M21.25,717.5h3 M21.25,706.78h3 M21.25,696.06h3 M21.25,685.34h3 M21.25,674.62h3 M21.25,663.9h3 M21.25,653.18h3 M21.25,642.46h3 M21.25,631.74h3 M21.25,621.02h3 M21.25,610.3h3 M21.25,599.58h3 M21.25,588.86h3 M21.25,578.14h3 M246,771.1h3 M246,761.17h3 M246,751.24h3 M246,741.31h3 M246,731.38h3 M246,721.45h3 M246,711.52h3 M246,701.59h3 M246,691.66h3 M246,681.73h3 M246,671.8h3 M246,661.87h3 M246,651.94h3 M246,642.01h3 M246,632.08h3 M246,622.15h3 M246,612.22h3 M246,602.29h3 M246,592.36h3 M246,582.43h3 M246,572.5h3" stroke="#404040" stroke-width="1.2" fill="none"/>
<text x="137.25" y="567.7" text-anchor="start" font-size="6.4" textLength="78.88" lengthAdjust="spacing" word-spacing="-1.0" transform="scale(0.8,1)" stroke="#111" stroke-width="0.12" fill="#111">Emotional Support</text>
<text transform="translate(5.95,675.2) rotate(-90)" text-anchor="middle" font-size="6.5" textLength="41.8" lengthAdjust="spacingAndGlyphs" fill="#111" stroke="#111" stroke-width="0.25">Total Information</text>
<text transform="translate(265.4,667.6) rotate(90)" text-anchor="middle" font-size="6.5" textLength="36.4" lengthAdjust="spacingAndGlyphs" fill="#111" stroke="#111" stroke-width="0.25">Standard Error</text>
<text x="156.81" y="794.5" text-anchor="start" font-size="6.4" textLength="23.5" lengthAdjust="spacing" word-spacing="-1.0" transform="scale(0.8,1)" stroke="#111" stroke-width="0.12" fill="#111">Theta</text>
<path d="M41.35,808.3H68.75" stroke="#222" stroke-width="0.9" fill="none"/>
<text x="97.19" y="811.9" text-anchor="start" font-size="6.4" textLength="71.62" lengthAdjust="spacing" word-spacing="-2.4" transform="scale(0.8,1)" stroke="#111" stroke-width="0.12" fill="#111">Total Information</text>
<path d="M154.05,808.1H179.35" stroke="#000" stroke-width="1.25" stroke-dasharray="2.1 1.75" fill="none"/>
<text x="238.94" y="811.9" text-anchor="start" font-size="6.4" textLength="62.37" lengthAdjust="spacing" word-spacing="-1.0" transform="scale(0.8,1)" stroke="#111" stroke-width="0.12" fill="#111">Standard Error</text>
<path d="M23.1,749.07 L23.6,748.84 L24.1,748.61 L24.6,748.36 L25.1,748.11 L25.6,747.85 L26.1,747.58 L26.6,747.3 L27.1,747.02 L27.6,746.72 L28.1,746.42 L28.6,746.11 L29.1,745.79 L29.6,745.46 L30.1,745.12 L30.6,744.78 L31.1,744.43 L31.6,744.07 L32.1,743.7 L32.6,743.33 L33.1,742.95 L33.6,742.56 L34.1,742.17 L34.6,741.77 L35.1,741.36 L35.6,740.94 L36.1,740.52 L36.6,740.1 L37.1,739.66 L37.6,739.22 L38.1,738.77 L38.6,738.32 L39.1,737.86 L39.6,737.4 L40.1,736.93 L40.6,736.45 L41.1,735.97 L41.6,735.48 L42.1,734.99 L42.6,734.49 L43.1,733.99 L43.6,733.48 L44.1,732.97 L44.6,732.45 L45.1,731.92 L45.6,731.39 L46.1,730.84 L46.6,730.28 L47.1,729.71 L47.6,729.13 L48.1,728.53 L48.6,727.92 L49.1,727.29 L49.6,726.64 L50.1,725.97 L50.6,725.29 L51.1,724.58 L51.6,723.86 L52.1,723.11 L52.6,722.33 L53.1,721.53 L53.6,720.71 L54.1,719.86 L54.6,718.98 L55.1,718.07 L55.6,717.13 L56.1,716.16 L56.6,715.16 L57.1,714.12 L57.6,713.05 L58.1,711.95 L58.6,710.81 L59.1,709.64 L59.6,708.44 L60.1,707.2 L60.6,705.92 L61.1,704.62 L61.6,703.27 L62.1,701.9 L62.6,700.49 L63.1,699.04 L63.6,697.56 L64.1,696.04 L64.6,694.49 L65.1,692.91 L65.6,691.29 L66.1,689.63 L66.6,687.94 L67.1,686.22 L67.6,684.46 L68.1,682.66 L68.6,680.84 L69.1,678.98 L69.6,677.09 L70.1,675.18 L70.6,673.24 L71.1,671.27 L71.6,669.28 L72.1,667.28 L72.6,665.25 L73.1,663.21 L73.6,661.15 L74.1,659.08 L74.6,657 L75.1,654.91 L75.6,652.82 L76.1,650.72 L76.6,648.61 L77.1,646.5 L77.6,644.39 L78.1,642.28 L78.6,640.18 L79.1,638.08 L79.6,635.98 L80.1,633.89 L80.6,631.8 L81.1,629.72 L81.6,627.66 L82.1,625.6 L82.6,623.57 L83.1,621.55 L83.6,619.57 L84.1,617.61 L84.6,615.7 L85.1,613.82 L85.6,612 L86.1,610.22 L86.6,608.5 L87.1,606.83 L87.6,605.21 L88.1,603.64 L88.6,602.12 L89.1,600.65 L89.6,599.23 L90.1,597.86 L90.6,596.54 L91.1,595.27 L91.6,594.05 L92.1,592.87 L92.6,591.75 L93.1,590.67 L93.6,589.64 L94.1,588.66 L94.6,587.73 L95.1,586.84 L95.6,586 L96.1,585.2 L96.6,584.45 L97.1,583.75 L97.6,583.09 L98.1,582.46 L98.6,581.88 L99.1,581.33 L99.6,580.82 L100.1,580.33 L100.6,579.88 L101.1,579.45 L101.6,579.05 L102.1,578.68 L102.6,578.32 L103.1,577.98 L103.6,577.67 L104.1,577.36 L104.6,577.07 L105.1,576.79 L105.6,576.52 L106.1,576.26 L106.6,576 L107.1,575.74 L107.6,575.49 L108.1,575.24 L108.6,575 L109.1,574.77 L109.6,574.56 L110.1,574.36 L110.6,574.17 L111.1,574.01 L111.6,573.86 L112.1,573.74 L112.6,573.64 L113.1,573.56 L113.6,573.51 L114.1,573.48 L114.6,573.46 L115.1,573.47 L115.6,573.5 L116.1,573.54 L116.6,573.6 L117.1,573.68 L117.6,573.77 L118.1,573.88 L118.6,573.99 L119.1,574.13 L119.6,574.27 L120.1,574.42 L120.6,574.58 L121.1,574.75 L121.6,574.93 L122.1,575.11 L122.6,575.3 L123.1,575.49 L123.6,575.69 L124.1,575.89 L124.6,576.09 L125.1,576.29 L125.6,576.5 L126.1,576.7 L126.6,576.9 L127.1,577.11 L127.6,577.32 L128.1,577.53 L128.6,577.74 L129.1,577.95 L129.6,578.16 L130.1,578.38 L130.6,578.6 L131.1,578.82 L131.6,579.04 L132.1,579.27 L132.6,579.49 L133.1,579.73 L133.6,579.96 L134.1,580.19 L134.6,580.43 L135.1,580.68 L135.6,580.92 L136.1,581.17 L136.6,581.42 L137.1,581.68 L137.6,581.94 L138.1,582.21 L138.6,582.48 L139.1,582.75 L139.6,583.03 L140.1,583.31 L140.6,583.6 L141.1,583.89 L141.6,584.18 L142.1,584.48 L142.6,584.79 L143.1,585.1 L143.6,585.42 L144.1,585.74 L144.6,586.07 L145.1,586.41 L145.6,586.75 L146.1,587.09 L146.6,587.44 L147.1,587.79 L147.6,588.14 L148.1,588.5 L148.6,588.85 L149.1,589.2 L149.6,589.56 L150.1,589.91 L150.6,590.25 L151.1,590.6 L151.6,590.93 L152.1,591.27 L152.6,591.59 L153.1,591.91 L153.6,592.22 L154.1,592.52 L154.6,592.81 L155.1,593.09 L155.6,593.36 L156.1,593.62 L156.6,593.86 L157.1,594.09 L157.6,594.3 L158.1,594.5 L158.6,594.68 L159.1,594.85 L159.6,595.01 L160.1,595.16 L160.6,595.32 L161.1,595.48 L161.6,595.65 L162.1,595.84 L162.6,596.04 L163.1,596.28 L163.6,596.54 L164.1,596.84 L164.6,597.17 L165.1,597.56 L165.6,597.99 L166.1,598.48 L166.6,599.02 L167.1,599.63 L167.6,600.29 L168.1,601.01 L168.6,601.78 L169.1,602.62 L169.6,603.52 L170.1,604.48 L170.6,605.51 L171.1,606.59 L171.6,607.75 L172.1,608.96 L172.6,610.24 L173.1,611.59 L173.6,613 L174.1,614.48 L174.6,616.02 L175.1,617.63 L175.6,619.29 L176.1,621.01 L176.6,622.78 L177.1,624.61 L177.6,626.49 L178.1,628.42 L178.6,630.4 L179.1,632.43 L179.6,634.49 L180.1,636.6 L180.6,638.75 L181.1,640.94 L181.6,643.17 L182.1,645.43 L182.6,647.72 L183.1,650.04 L183.6,652.4 L184.1,654.77 L184.6,657.18 L185.1,659.6 L185.6,662.04 L186.1,664.49 L186.6,666.94 L187.1,669.39 L187.6,671.83 L188.1,674.27 L188.6,676.68 L189.1,679.08 L189.6,681.45 L190.1,683.78 L190.6,686.08 L191.1,688.34 L191.6,690.55 L192.1,692.71 L192.6,694.81 L193.1,696.84 L193.6,698.81 L194.1,700.71 L194.6,702.53 L195.1,704.29 L195.6,705.98 L196.1,707.6 L196.6,709.17 L197.1,710.68 L197.6,712.13 L198.1,713.52 L198.6,714.87 L199.1,716.16 L199.6,717.41 L200.1,718.61 L200.6,719.78 L201.1,720.9 L201.6,721.98 L202.1,723.03 L202.6,724.05 L203.1,725.04 L203.6,725.99 L204.1,726.92 L204.6,727.83 L205.1,728.71 L205.6,729.56 L206.1,730.4 L206.6,731.22 L207.1,732.02 L207.6,732.81 L208.1,733.57 L208.6,734.32 L209.1,735.05 L209.6,735.77 L210.1,736.46 L210.6,737.14 L211.1,737.81 L211.6,738.45 L212.1,739.08 L212.6,739.7 L213.1,740.3 L213.6,740.88 L214.1,741.45 L214.6,742.01 L215.1,742.55 L215.6,743.07 L216.1,743.59 L216.6,744.08 L217.1,744.57 L217.6,745.04 L218.1,745.49 L218.6,745.94 L219.1,746.37 L219.6,746.79 L220.1,747.19 L220.6,747.59 L221.1,747.97 L221.6,748.34 L222.1,748.7 L222.6,749.05 L223.1,749.38 L223.6,749.71 L224.1,750.03 L224.6,750.33 L225.1,750.63 L225.6,750.91 L226.1,751.19 L226.6,751.45 L227.1,751.71 L227.6,751.96 L228.1,752.2 L228.6,752.43 L229.1,752.65 L229.6,752.86 L230.1,753.07 L230.6,753.27 L231.1,753.46 L231.6,753.65 L232.1,753.82 L232.6,753.99 L233.1,754.16 L233.6,754.32 L234.1,754.47 L234.6,754.62 L235.1,754.76 L235.6,754.89 L236.1,755.02 L236.6,755.15 L237.1,755.27 L237.6,755.39 L238.1,755.5 L238.6,755.61 L239.1,755.71 L239.6,755.81 L240.1,755.91 L240.6,756.01 L241.1,756.1 L241.6,756.19 L242.1,756.27 L242.6,756.36 L243.1,756.44 L243.6,756.52 L244.1,756.6 L244.6,756.68 L245.1,756.76 L245.6,756.84 L246.1,756.91 L246.6,756.99 L247.1,757.07 L247.5,757.13" stroke="#383838" stroke-width="1" fill="none"/>
<path d="M23.2,631.08 L23.7,631.96 L24.2,632.83 L24.7,633.69 L25.2,634.56 L25.7,635.41 L26.2,636.27 L26.7,637.11 L27.2,637.96 L27.7,638.8 L28.2,639.63 L28.7,640.47 L29.2,641.29 L29.7,642.12 L30.2,642.94 L30.7,643.75 L31.2,644.57 L31.7,645.38 L32.2,646.18 L32.7,646.99 L33.2,647.79 L33.7,648.58 L34.2,649.38 L34.7,650.17 L35.2,650.96 L35.7,651.74 L36.2,652.53 L36.7,653.31 L37.2,654.09 L37.7,654.86 L38.2,655.64 L38.7,656.41 L39.2,657.18 L39.7,657.95 L40.2,658.72 L40.7,659.49 L41.2,660.25 L41.7,661.02 L42.2,661.78 L42.7,662.54 L43.2,663.3 L43.7,664.06 L44.2,664.82 L44.7,665.58 L45.2,666.34 L45.7,667.1 L46.2,667.85 L46.7,668.61 L47.2,669.37 L47.7,670.12 L48.2,670.88 L48.7,671.64 L49.2,672.4 L49.7,673.15 L50.2,673.91 L50.7,674.67 L51.2,675.43 L51.7,676.19 L52.2,676.94 L52.7,677.7 L53.2,678.46 L53.7,679.22 L54.2,679.98 L54.7,680.74 L55.2,681.5 L55.7,682.26 L56.2,683.03 L56.7,683.79 L57.2,684.55 L57.7,685.31 L58.2,686.08 L58.7,686.84 L59.2,687.6 L59.7,688.37 L60.2,689.13 L60.7,689.9 L61.2,690.66 L61.7,691.43 L62.2,692.2 L62.7,692.97 L63.2,693.73 L63.7,694.5 L64.2,695.27 L64.7,696.03 L65.2,696.8 L65.7,697.55 L66.2,698.31 L66.7,699.06 L67.2,699.8 L67.7,700.54 L68.2,701.27 L68.7,702 L69.2,702.71 L69.7,703.41 L70.2,704.11 L70.7,704.79 L71.2,705.46 L71.7,706.12 L72.2,706.77 L72.7,707.4 L73.2,708.02 L73.7,708.62 L74.2,709.21 L74.7,709.78 L75.2,710.34 L75.7,710.89 L76.2,711.42 L76.7,711.94 L77.2,712.44 L77.7,712.94 L78.2,713.42 L78.7,713.88 L79.2,714.34 L79.7,714.78 L80.2,715.21 L80.7,715.63 L81.2,716.03 L81.7,716.43 L82.2,716.81 L82.7,717.18 L83.2,717.54 L83.7,717.89 L84.2,718.23 L84.7,718.56 L85.2,718.88 L85.7,719.19 L86.2,719.48 L86.7,719.77 L87.2,720.05 L87.7,720.32 L88.2,720.57 L88.7,720.82 L89.2,721.06 L89.7,721.3 L90.2,721.52 L90.7,721.73 L91.2,721.94 L91.7,722.14 L92.2,722.33 L92.7,722.51 L93.2,722.68 L93.7,722.85 L94.2,723.01 L94.7,723.16 L95.2,723.31 L95.7,723.45 L96.2,723.58 L96.7,723.71 L97.2,723.83 L97.7,723.94 L98.2,724.05 L98.7,724.15 L99.2,724.25 L99.7,724.34 L100.2,724.42 L100.7,724.5 L101.2,724.58 L101.7,724.65 L102.2,724.72 L102.7,724.78 L103.2,724.84 L103.7,724.89 L104.2,724.95 L104.7,724.99 L105.2,725.03 L105.7,725.07 L106.2,725.11 L106.7,725.14 L107.2,725.17 L107.7,725.2 L108.2,725.22 L108.7,725.24 L109.2,725.25 L109.7,725.26 L110.2,725.27 L110.7,725.28 L111.2,725.28 L111.7,725.28 L112.2,725.28 L112.7,725.28 L113.2,725.27 L113.7,725.26 L114.2,725.25 L114.7,725.24 L115.2,725.22 L115.7,725.21 L116.2,725.19 L116.7,725.17 L117.2,725.14 L117.7,725.12 L118.2,725.09 L118.7,725.06 L119.2,725.03 L119.7,725 L120.2,724.97 L120.7,724.94 L121.2,724.91 L121.7,724.87 L122.2,724.83 L122.7,724.8 L123.2,724.76 L123.7,724.72 L124.2,724.68 L124.7,724.64 L125.2,724.6 L125.7,724.56 L126.2,724.52 L126.7,724.48 L127.2,724.44 L127.7,724.4 L128.2,724.36 L128.7,724.32 L129.2,724.28 L129.7,724.24 L130.2,724.2 L130.7,724.16 L131.2,724.13 L131.7,724.09 L132.2,724.05 L132.7,724.02 L133.2,723.98 L133.7,723.95 L134.2,723.92 L134.7,723.88 L135.2,723.85 L135.7,723.83 L136.2,723.8 L136.7,723.77 L137.2,723.74 L137.7,723.72 L138.2,723.69 L138.7,723.67 L139.2,723.65 L139.7,723.62 L140.2,723.6 L140.7,723.58 L141.2,723.55 L141.7,723.53 L142.2,723.51 L142.7,723.49 L143.2,723.46 L143.7,723.44 L144.2,723.42 L144.7,723.39 L145.2,723.37 L145.7,723.35 L146.2,723.32 L146.7,723.3 L147.2,723.27 L147.7,723.24 L148.2,723.21 L148.7,723.18 L149.2,723.15 L149.7,723.12 L150.2,723.09 L150.7,723.05 L151.2,723.02 L151.7,722.98 L152.2,722.94 L152.7,722.9 L153.2,722.86 L153.7,722.81 L154.2,722.77 L154.7,722.72 L155.2,722.67 L155.7,722.62 L156.2,722.56 L156.7,722.5 L157.2,722.44 L157.7,722.38 L158.2,722.32 L158.7,722.25 L159.2,722.18 L159.7,722.11 L160.2,722.03 L160.7,721.95 L161.2,721.87 L161.7,721.79 L162.2,721.7 L162.7,721.61 L163.2,721.51 L163.7,721.41 L164.2,721.31 L164.7,721.2 L165.2,721.09 L165.7,720.98 L166.2,720.86 L166.7,720.73 L167.2,720.6 L167.7,720.46 L168.2,720.31 L168.7,720.15 L169.2,719.99 L169.7,719.81 L170.2,719.63 L170.7,719.43 L171.2,719.23 L171.7,719.01 L172.2,718.78 L172.7,718.54 L173.2,718.29 L173.7,718.02 L174.2,717.74 L174.7,717.44 L175.2,717.13 L175.7,716.81 L176.2,716.46 L176.7,716.1 L177.2,715.73 L177.7,715.33 L178.2,714.92 L178.7,714.5 L179.2,714.05 L179.7,713.59 L180.2,713.11 L180.7,712.61 L181.2,712.1 L181.7,711.57 L182.2,711.02 L182.7,710.45 L183.2,709.87 L183.7,709.27 L184.2,708.65 L184.7,708.01 L185.2,707.36 L185.7,706.68 L186.2,705.99 L186.7,705.28 L187.2,704.56 L187.7,703.82 L188.2,703.06 L188.7,702.28 L189.2,701.49 L189.7,700.69 L190.2,699.87 L190.7,699.04 L191.2,698.2 L191.7,697.34 L192.2,696.48 L192.7,695.6 L193.2,694.72 L193.7,693.83 L194.2,692.93 L194.7,692.02 L195.2,691.1 L195.7,690.18 L196.2,689.26 L196.7,688.33 L197.2,687.39 L197.7,686.45 L198.2,685.51 L198.7,684.57 L199.2,683.62 L199.7,682.67 L200.2,681.72 L200.7,680.76 L201.2,679.8 L201.7,678.84 L202.2,677.88 L202.7,676.91 L203.2,675.93 L203.7,674.96 L204.2,673.98 L204.7,672.99 L205.2,672.01 L205.7,671.02 L206.2,670.02 L206.7,669.03 L207.2,668.03 L207.7,667.02 L208.2,666.01 L208.7,665 L209.2,663.99 L209.7,662.97 L210.2,661.95 L210.7,660.92 L211.2,659.9 L211.7,658.86 L212.2,657.83 L212.7,656.8 L213.2,655.76 L213.7,654.72 L214.2,653.67 L214.7,652.62 L215.2,651.58 L215.7,650.52 L216.2,649.47 L216.7,648.42 L217.2,647.36 L217.7,646.3 L218.2,645.24 L218.7,644.17 L219.2,643.11 L219.7,642.04 L220.2,640.97 L220.7,639.9 L221.2,638.83 L221.7,637.75 L222.2,636.68 L222.7,635.61 L223.2,634.54 L223.7,633.47 L224.2,632.4 L224.7,631.34 L225.2,630.28 L225.7,629.23 L226.2,628.19 L226.7,627.15 L227.2,626.12 L227.7,625.09 L228.2,624.08 L228.7,623.07 L229.2,622.08 L229.7,621.1 L230.2,620.13 L230.7,619.17 L231.2,618.22 L231.7,617.29 L232.2,616.37 L232.7,615.46 L233.2,614.57 L233.7,613.69 L234.2,612.83 L234.7,611.98 L235.2,611.14 L235.7,610.32 L236.2,609.51 L236.7,608.71 L237.2,607.93 L237.7,607.17 L238.2,606.42 L238.7,605.68 L239.2,604.96 L239.7,604.26 L240.2,603.57 L240.7,602.9 L241.2,602.24 L241.7,601.6 L242.2,600.98 L242.7,600.37 L243.2,599.78 L243.7,599.2 L244.2,598.64 L244.7,598.1 L245.2,597.58 L245.7,597.08 L246.2,596.59 L246.7,596.12 L247.2,595.66 L247.5,595.4" stroke="#111" stroke-width="1.1" stroke-dasharray="2.5 2.05" fill="none"/></g>
<g><path d="M318,572.5 H542.6 V771.1 H318 Z" fill="none" stroke="#404040" stroke-width="1.15"/>
<text x="318" y="782.8" text-anchor="middle" font-size="6.3" stroke="#111" stroke-width="0.14" fill="#111">-3</text>
<text x="355.43" y="782.8" text-anchor="middle" font-size="6.3" stroke="#111" stroke-width="0.14" fill="#111">-2</text>
<text x="392.87" y="782.8" text-anchor="middle" font-size="6.3" stroke="#111" stroke-width="0.14" fill="#111">-1</text>
<text x="430.3" y="782.8" text-anchor="middle" font-size="6.3" stroke="#111" stroke-width="0.14" fill="#111">0</text>
<text x="467.73" y="782.8" text-anchor="middle" font-size="6.3" stroke="#111" stroke-width="0.14" fill="#111">1</text>
<text x="505.17" y="782.8" text-anchor="middle" font-size="6.3" stroke="#111" stroke-width="0.14" fill="#111">2</text>
<text x="542.6" y="782.8" text-anchor="middle" font-size="6.3" stroke="#111" stroke-width="0.14" fill="#111">3</text>
<text x="315" y="774.2" text-anchor="end" font-size="6.3" stroke="#111" stroke-width="0.14" fill="#111">0</text>
<text x="315" y="750.2" text-anchor="end" font-size="6.3" stroke="#111" stroke-width="0.14" fill="#111">2</text>
<text x="315" y="726.2" text-anchor="end" font-size="6.3" stroke="#111" stroke-width="0.14" fill="#111">4</text>
<text x="315" y="702.2" text-anchor="end" font-size="6.3" stroke="#111" stroke-width="0.14" fill="#111">6</text>
<text x="315" y="678.2" text-anchor="end" font-size="6.3" stroke="#111" stroke-width="0.14" fill="#111">8</text>
<text x="315" y="654.2" text-anchor="end" font-size="6.3" stroke="#111" stroke-width="0.14" fill="#111">10</text>
<text x="315" y="630.2" text-anchor="end" font-size="6.3" stroke="#111" stroke-width="0.14" fill="#111">12</text>
<text x="315" y="606.2" text-anchor="end" font-size="6.3" stroke="#111" stroke-width="0.14" fill="#111">14</text>
<text x="315" y="582.2" text-anchor="end" font-size="6.3" stroke="#111" stroke-width="0.14" fill="#111">16</text>
<text x="545.4" y="774.2" text-anchor="start" font-size="6.3" stroke="#111" stroke-width="0.14" fill="#111">0.0</text>
<text x="545.4" y="754.34" text-anchor="start" font-size="6.3" stroke="#111" stroke-width="0.14" fill="#111">0.1</text>
<text x="545.4" y="734.48" text-anchor="start" font-size="6.3" stroke="#111" stroke-width="0.14" fill="#111">0.2</text>
<text x="545.4" y="714.62" text-anchor="start" font-size="6.3" stroke="#111" stroke-width="0.14" fill="#111">0.3</text>
<text x="545.4" y="694.76" text-anchor="start" font-size="6.3" stroke="#111" stroke-width="0.14" fill="#111">0.4</text>
<text x="545.4" y="674.9" text-anchor="start" font-size="6.3" stroke="#111" stroke-width="0.14" fill="#111">0.5</text>
<text x="545.4" y="655.04" text-anchor="start" font-size="6.3" stroke="#111" stroke-width="0.14" fill="#111">0.6</text>
<text x="545.4" y="635.18" text-anchor="start" font-size="6.3" stroke="#111" stroke-width="0.14" fill="#111">0.7</text>
<text x="545.4" y="615.32" text-anchor="start" font-size="6.3" stroke="#111" stroke-width="0.14" fill="#111">0.8</text>
<text x="545.4" y="595.46" text-anchor="start" font-size="6.3" stroke="#111" stroke-width="0.14" fill="#111">0.9</text>
<text x="545.4" y="575.6" text-anchor="start" font-size="6.3" stroke="#111" stroke-width="0.14" fill="#111">1.0</text>
<path d="M318,769.6v3 M336.72,769.6v3 M355.43,769.6v3 M374.15,769.6v3 M392.87,769.6v3 M411.58,769.6v3 M430.3,769.6v3 M449.02,769.6v3 M467.73,769.6v3 M486.45,769.6v3 M505.17,769.6v3 M523.88,769.6v3 M542.6,769.6v3 M316.5,771.1h3 M316.5,759.1h3 M316.5,747.1h3 M316.5,735.1h3 M316.5,723.1h3 M316.5,711.1h3 M316.5,699.1h3 M316.5,687.1h3 M316.5,675.1h3 M316.5,663.1h3 M316.5,651.1h3 M316.5,639.1h3 M316.5,627.1h3 M316.5,615.1h3 M316.5,603.1h3 M316.5,591.1h3 M316.5,579.1h3 M541.1,771.1h3 M541.1,761.17h3 M541.1,751.24h3 M541.1,741.31h3 M541.1,731.38h3 M541.1,721.45h3 M541.1,711.52h3 M541.1,701.59h3 M541.1,691.66h3 M541.1,681.73h3 M541.1,671.8h3 M541.1,661.87h3 M541.1,651.94h3 M541.1,642.01h3 M541.1,632.08h3 M541.1,622.15h3 M541.1,612.22h3 M541.1,602.29h3 M541.1,592.36h3 M541.1,582.43h3 M541.1,572.5h3" stroke="#404040" stroke-width="1.2" fill="none"/>
<text x="517.88" y="567.7" text-anchor="start" font-size="6.4" textLength="55.12" lengthAdjust="spacing" word-spacing="-1.0" transform="scale(0.8,1)" stroke="#111" stroke-width="0.12" fill="#111">Global Affect</text>
<text transform="translate(301.2,675.2) rotate(-90)" text-anchor="middle" font-size="6.5" textLength="41.8" lengthAdjust="spacingAndGlyphs" fill="#111" stroke="#111" stroke-width="0.25">Total Information</text>
<text transform="translate(560.5,667.6) rotate(90)" text-anchor="middle" font-size="6.5" textLength="36.4" lengthAdjust="spacingAndGlyphs" fill="#111" stroke="#111" stroke-width="0.25">Standard Error</text>
<text x="525.88" y="794.5" text-anchor="start" font-size="6.4" textLength="23.5" lengthAdjust="spacing" word-spacing="-1.0" transform="scale(0.8,1)" stroke="#111" stroke-width="0.12" fill="#111">Theta</text>
<path d="M336.6,808.3H364" stroke="#222" stroke-width="0.9" fill="none"/>
<text x="466.25" y="811.9" text-anchor="start" font-size="6.4" textLength="71.62" lengthAdjust="spacing" word-spacing="-2.4" transform="scale(0.8,1)" stroke="#111" stroke-width="0.12" fill="#111">Total Information</text>
<path d="M449.3,808.1H474.6" stroke="#000" stroke-width="1.25" stroke-dasharray="2.1 1.75" fill="none"/>
<text x="608" y="811.9" text-anchor="start" font-size="6.4" textLength="62.37" lengthAdjust="spacing" word-spacing="-1.0" transform="scale(0.8,1)" stroke="#111" stroke-width="0.12" fill="#111">Standard Error</text>
<path d="M317.9,749.23 L318.4,748.85 L318.9,748.48 L319.4,748.11 L319.9,747.74 L320.4,747.38 L320.9,747.01 L321.4,746.65 L321.9,746.28 L322.4,745.92 L322.9,745.56 L323.4,745.19 L323.9,744.82 L324.4,744.45 L324.9,744.08 L325.4,743.7 L325.9,743.32 L326.4,742.94 L326.9,742.55 L327.4,742.15 L327.9,741.75 L328.4,741.34 L328.9,740.92 L329.4,740.49 L329.9,740.06 L330.4,739.62 L330.9,739.16 L331.4,738.7 L331.9,738.23 L332.4,737.75 L332.9,737.25 L333.4,736.74 L333.9,736.22 L334.4,735.69 L334.9,735.14 L335.4,734.58 L335.9,734 L336.4,733.41 L336.9,732.8 L337.4,732.17 L337.9,731.53 L338.4,730.87 L338.9,730.19 L339.4,729.49 L339.9,728.78 L340.4,728.04 L340.9,727.28 L341.4,726.51 L341.9,725.71 L342.4,724.89 L342.9,724.04 L343.4,723.18 L343.9,722.29 L344.4,721.37 L344.9,720.44 L345.4,719.48 L345.9,718.49 L346.4,717.49 L346.9,716.46 L347.4,715.41 L347.9,714.33 L348.4,713.19 L348.9,711.99 L349.4,710.71 L349.9,709.33 L350.4,707.85 L350.9,706.29 L351.4,704.67 L351.9,703.02 L352.4,701.36 L352.9,699.7 L353.4,698.04 L353.9,696.36 L354.4,694.66 L354.9,692.92 L355.4,691.15 L355.9,689.33 L356.4,687.45 L356.9,685.51 L357.4,683.5 L357.9,681.41 L358.4,679.23 L358.9,676.96 L359.4,674.56 L359.9,672.01 L360.4,669.28 L360.9,666.34 L361.4,663.19 L361.9,659.91 L362.4,656.62 L362.9,653.41 L363.4,650.34 L363.9,647.38 L364.4,644.5 L364.9,641.66 L365.4,638.83 L365.9,635.97 L366.4,633.05 L366.9,630.03 L367.4,626.86 L367.9,623.52 L368.4,620.06 L368.9,616.59 L369.4,613.23 L369.9,610.08 L370.4,607.26 L370.9,604.74 L371.4,602.45 L371.9,600.33 L372.4,598.31 L372.9,596.32 L373.4,594.33 L373.9,592.29 L374.4,590.15 L374.9,587.94 L375.4,585.73 L375.9,583.61 L376.4,581.68 L376.9,579.99 L377.4,578.55 L377.9,577.36 L378.4,576.4 L378.9,575.66 L379.4,575.12 L379.9,574.77 L380.4,574.6 L380.9,574.59 L381.4,574.72 L381.9,574.97 L382.4,575.33 L382.9,575.8 L383.4,576.34 L383.9,576.95 L384.4,577.61 L384.9,578.31 L385.4,579.03 L385.9,579.75 L386.4,580.47 L386.9,581.16 L387.4,581.81 L387.9,582.42 L388.4,582.99 L388.9,583.5 L389.4,583.95 L389.9,584.34 L390.4,584.67 L390.9,584.93 L391.4,585.11 L391.9,585.2 L392.4,585.22 L392.9,585.15 L393.4,584.98 L393.9,584.71 L394.4,584.35 L394.9,583.9 L395.4,583.37 L395.9,582.79 L396.4,582.15 L396.9,581.47 L397.4,580.77 L397.9,580.06 L398.4,579.35 L398.9,578.65 L399.4,577.97 L399.9,577.33 L400.4,576.74 L400.9,576.21 L401.4,575.75 L401.9,575.38 L402.4,575.11 L402.9,574.95 L403.4,574.92 L403.9,575.02 L404.4,575.25 L404.9,575.63 L405.4,576.15 L405.9,576.81 L406.4,577.63 L406.9,578.6 L407.4,579.73 L407.9,581.02 L408.4,582.47 L408.9,584.07 L409.4,585.78 L409.9,587.59 L410.4,589.45 L410.9,591.33 L411.4,593.24 L411.9,595.15 L412.4,597.09 L412.9,599.05 L413.4,601.03 L413.9,603.04 L414.4,605.07 L414.9,607.11 L415.4,609.15 L415.9,611.17 L416.4,613.17 L416.9,615.14 L417.4,617.07 L417.9,618.94 L418.4,620.74 L418.9,622.47 L419.4,624.12 L419.9,625.66 L420.4,627.1 L420.9,628.42 L421.4,629.62 L421.9,630.65 L422.4,631.52 L422.9,632.18 L423.4,632.62 L423.9,632.83 L424.4,632.8 L424.9,632.56 L425.4,632.11 L425.9,631.47 L426.4,630.64 L426.9,629.65 L427.4,628.5 L427.9,627.21 L428.4,625.78 L428.9,624.23 L429.4,622.58 L429.9,620.83 L430.4,619 L430.9,617.09 L431.4,615.13 L431.9,613.13 L432.4,611.09 L432.9,609.03 L433.4,606.96 L433.9,604.89 L434.4,602.84 L434.9,600.82 L435.4,598.84 L435.9,596.91 L436.4,595.04 L436.9,593.25 L437.4,591.54 L437.9,589.92 L438.4,588.39 L438.9,586.96 L439.4,585.64 L439.9,584.44 L440.4,583.35 L440.9,582.4 L441.4,581.58 L441.9,580.9 L442.4,580.38 L442.9,580.01 L443.4,579.8 L443.9,579.76 L444.4,579.9 L444.9,580.23 L445.4,580.74 L445.9,581.44 L446.4,582.31 L446.9,583.31 L447.4,584.44 L447.9,585.66 L448.4,586.95 L448.9,588.29 L449.4,589.66 L449.9,591.04 L450.4,592.44 L450.9,593.85 L451.4,595.28 L451.9,596.72 L452.4,598.17 L452.9,599.63 L453.4,601.09 L453.9,602.53 L454.4,603.94 L454.9,605.32 L455.4,606.65 L455.9,607.92 L456.4,609.12 L456.9,610.24 L457.4,611.27 L457.9,612.19 L458.4,613 L458.9,613.69 L459.4,614.24 L459.9,614.64 L460.4,614.88 L460.9,614.96 L461.4,614.85 L461.9,614.55 L462.4,614.06 L462.9,613.36 L463.4,612.5 L463.9,611.48 L464.4,610.31 L464.9,609.03 L465.4,607.63 L465.9,606.15 L466.4,604.59 L466.9,602.98 L467.4,601.33 L467.9,599.65 L468.4,597.95 L468.9,596.26 L469.4,594.59 L469.9,592.96 L470.4,591.36 L470.9,589.83 L471.4,588.38 L471.9,587.02 L472.4,585.76 L472.9,584.62 L473.4,583.62 L473.9,582.77 L474.4,582.08 L474.9,581.56 L475.4,581.21 L475.9,581.04 L476.4,581.07 L476.9,581.29 L477.4,581.71 L477.9,582.34 L478.4,583.19 L478.9,584.27 L479.4,585.54 L479.9,586.98 L480.4,588.57 L480.9,590.28 L481.4,592.07 L481.9,593.92 L482.4,595.84 L482.9,597.83 L483.4,599.9 L483.9,602.05 L484.4,604.28 L484.9,606.61 L485.4,609.03 L485.9,611.56 L486.4,614.19 L486.9,616.94 L487.4,619.81 L487.9,622.81 L488.4,625.98 L488.9,629.34 L489.4,632.91 L489.9,636.72 L490.4,640.77 L490.9,644.96 L491.4,649.18 L491.9,653.3 L492.4,657.22 L492.9,660.8 L493.4,663.98 L493.9,666.85 L494.4,669.49 L494.9,671.98 L495.4,674.42 L495.9,676.86 L496.4,679.28 L496.9,681.66 L497.4,684.01 L497.9,686.3 L498.4,688.53 L498.9,690.69 L499.4,692.79 L499.9,694.83 L500.4,696.8 L500.9,698.72 L501.4,700.57 L501.9,702.36 L502.4,704.1 L502.9,705.78 L503.4,707.41 L503.9,708.99 L504.4,710.52 L504.9,712 L505.4,713.44 L505.9,714.83 L506.4,716.18 L506.9,717.5 L507.4,718.77 L507.9,720.01 L508.4,721.22 L508.9,722.39 L509.4,723.52 L509.9,724.63 L510.4,725.7 L510.9,726.73 L511.4,727.74 L511.9,728.72 L512.4,729.66 L512.9,730.58 L513.4,731.47 L513.9,732.33 L514.4,733.16 L514.9,733.97 L515.4,734.75 L515.9,735.51 L516.4,736.24 L516.9,736.94 L517.4,737.63 L517.9,738.29 L518.4,738.93 L518.9,739.55 L519.4,740.15 L519.9,740.73 L520.4,741.29 L520.9,741.83 L521.4,742.35 L521.9,742.86 L522.4,743.35 L522.9,743.83 L523.4,744.29 L523.9,744.73 L524.4,745.17 L524.9,745.59 L525.4,745.99 L525.9,746.39 L526.4,746.77 L526.9,747.15 L527.4,747.51 L527.9,747.87 L528.4,748.21 L528.9,748.54 L529.4,748.87 L529.9,749.18 L530.4,749.49 L530.9,749.79 L531.4,750.07 L531.9,750.35 L532.4,750.62 L532.9,750.88 L533.4,751.13 L533.9,751.37 L534.4,751.6 L534.9,751.83 L535.4,752.04 L535.9,752.25 L536.4,752.45 L536.9,752.64 L537.4,752.82 L537.9,752.99 L538.4,753.16 L538.9,753.31 L539.4,753.46 L539.9,753.61 L540.4,753.74 L540.9,753.87 L541.4,753.98 L541.9,754.1 L542.4,754.2" stroke="#383838" stroke-width="1" fill="none"/>
<path d="M317.8,622.96 L318.3,623.92 L318.8,624.87 L319.3,625.81 L319.8,626.74 L320.3,627.66 L320.8,628.57 L321.3,629.48 L321.8,630.38 L322.3,631.27 L322.8,632.16 L323.3,633.04 L323.8,633.92 L324.3,634.79 L324.8,635.66 L325.3,636.52 L325.8,637.39 L326.3,638.25 L326.8,639.1 L327.3,639.96 L327.8,640.82 L328.3,641.67 L328.8,642.53 L329.3,643.39 L329.8,644.25 L330.3,645.11 L330.8,645.97 L331.3,646.84 L331.8,647.71 L332.3,648.58 L332.8,649.46 L333.3,650.34 L333.8,651.23 L334.3,652.12 L334.8,653.03 L335.3,653.93 L335.8,654.85 L336.3,655.77 L336.8,656.71 L337.3,657.65 L337.8,658.6 L338.3,659.56 L338.8,660.53 L339.3,661.5 L339.8,662.48 L340.3,663.47 L340.8,664.46 L341.3,665.46 L341.8,666.47 L342.3,667.48 L342.8,668.49 L343.3,669.51 L343.8,670.53 L344.3,671.55 L344.8,672.57 L345.3,673.6 L345.8,674.62 L346.3,675.65 L346.8,676.68 L347.3,677.71 L347.8,678.73 L348.3,679.76 L348.8,680.78 L349.3,681.8 L349.8,682.82 L350.3,683.83 L350.8,684.84 L351.3,685.85 L351.8,686.85 L352.3,687.84 L352.8,688.83 L353.3,689.81 L353.8,690.79 L354.3,691.76 L354.8,692.72 L355.3,693.68 L355.8,694.63 L356.3,695.56 L356.8,696.49 L357.3,697.41 L357.8,698.32 L358.3,699.22 L358.8,700.11 L359.3,700.98 L359.8,701.85 L360.3,702.7 L360.8,703.54 L361.3,704.37 L361.8,705.19 L362.3,705.99 L362.8,706.77 L363.3,707.54 L363.8,708.3 L364.3,709.04 L364.8,709.77 L365.3,710.48 L365.8,711.17 L366.3,711.85 L366.8,712.51 L367.3,713.15 L367.8,713.77 L368.3,714.37 L368.8,714.96 L369.3,715.52 L369.8,716.07 L370.3,716.59 L370.8,717.1 L371.3,717.58 L371.8,718.04 L372.3,718.48 L372.8,718.89 L373.3,719.29 L373.8,719.66 L374.3,720 L374.8,720.33 L375.3,720.62 L375.8,720.89 L376.3,721.14 L376.8,721.36 L377.3,721.56 L377.8,721.72 L378.3,721.87 L378.8,721.98 L379.3,722.06 L379.8,722.12 L380.3,722.15 L380.8,722.15 L381.3,722.12 L381.8,722.08 L382.3,722.01 L382.8,721.93 L383.3,721.83 L383.8,721.72 L384.3,721.61 L384.8,721.48 L385.3,721.36 L385.8,721.23 L386.3,721.11 L386.8,720.99 L387.3,720.89 L387.8,720.79 L388.3,720.71 L388.8,720.64 L389.3,720.59 L389.8,720.57 L390.3,720.56 L390.8,720.57 L391.3,720.59 L391.8,720.63 L392.3,720.68 L392.8,720.74 L393.3,720.81 L393.8,720.88 L394.3,720.96 L394.8,721.05 L395.3,721.14 L395.8,721.22 L396.3,721.31 L396.8,721.4 L397.3,721.48 L397.8,721.56 L398.3,721.62 L398.8,721.69 L399.3,721.74 L399.8,721.78 L400.3,721.81 L400.8,721.83 L401.3,721.84 L401.8,721.84 L402.3,721.83 L402.8,721.8 L403.3,721.76 L403.8,721.72 L404.3,721.65 L404.8,721.58 L405.3,721.49 L405.8,721.39 L406.3,721.28 L406.8,721.15 L407.3,721.01 L407.8,720.85 L408.3,720.67 L408.8,720.49 L409.3,720.28 L409.8,720.06 L410.3,719.83 L410.8,719.57 L411.3,719.31 L411.8,719.02 L412.3,718.72 L412.8,718.41 L413.3,718.08 L413.8,717.75 L414.3,717.41 L414.8,717.07 L415.3,716.73 L415.8,716.39 L416.3,716.05 L416.8,715.72 L417.3,715.4 L417.8,715.08 L418.3,714.78 L418.8,714.49 L419.3,714.22 L419.8,713.97 L420.3,713.74 L420.8,713.54 L421.3,713.35 L421.8,713.2 L422.3,713.08 L422.8,712.99 L423.3,712.94 L423.8,712.92 L424.3,712.93 L424.8,712.97 L425.3,713.04 L425.8,713.14 L426.3,713.27 L426.8,713.42 L427.3,713.59 L427.8,713.78 L428.3,714 L428.8,714.23 L429.3,714.47 L429.8,714.74 L430.3,715.01 L430.8,715.3 L431.3,715.6 L431.8,715.9 L432.3,716.21 L432.8,716.53 L433.3,716.85 L433.8,717.17 L434.3,717.49 L434.8,717.81 L435.3,718.13 L435.8,718.44 L436.3,718.75 L436.8,719.05 L437.3,719.34 L437.8,719.61 L438.3,719.88 L438.8,720.12 L439.3,720.35 L439.8,720.56 L440.3,720.75 L440.8,720.92 L441.3,721.06 L441.8,721.17 L442.3,721.26 L442.8,721.31 L443.3,721.34 L443.8,721.33 L444.3,721.29 L444.8,721.22 L445.3,721.12 L445.8,721 L446.3,720.85 L446.8,720.69 L447.3,720.51 L447.8,720.31 L448.3,720.1 L448.8,719.88 L449.3,719.65 L449.8,719.42 L450.3,719.18 L450.8,718.94 L451.3,718.7 L451.8,718.46 L452.3,718.23 L452.8,718 L453.3,717.79 L453.8,717.59 L454.3,717.39 L454.8,717.21 L455.3,717.04 L455.8,716.88 L456.3,716.73 L456.8,716.6 L457.3,716.49 L457.8,716.38 L458.3,716.3 L458.8,716.23 L459.3,716.18 L459.8,716.14 L460.3,716.13 L460.8,716.13 L461.3,716.16 L461.8,716.2 L462.3,716.27 L462.8,716.35 L463.3,716.46 L463.8,716.6 L464.3,716.75 L464.8,716.94 L465.3,717.14 L465.8,717.37 L466.3,717.61 L466.8,717.87 L467.3,718.14 L467.8,718.42 L468.3,718.7 L468.8,718.99 L469.3,719.27 L469.8,719.55 L470.3,719.82 L470.8,720.08 L471.3,720.33 L471.8,720.56 L472.3,720.77 L472.8,720.95 L473.3,721.11 L473.8,721.25 L474.3,721.35 L474.8,721.42 L475.3,721.47 L475.8,721.48 L476.3,721.47 L476.8,721.43 L477.3,721.36 L477.8,721.25 L478.3,721.12 L478.8,720.96 L479.3,720.77 L479.8,720.56 L480.3,720.31 L480.8,720.03 L481.3,719.72 L481.8,719.39 L482.3,719.02 L482.8,718.62 L483.3,718.2 L483.8,717.75 L484.3,717.27 L484.8,716.76 L485.3,716.23 L485.8,715.67 L486.3,715.09 L486.8,714.48 L487.3,713.85 L487.8,713.2 L488.3,712.53 L488.8,711.83 L489.3,711.11 L489.8,710.37 L490.3,709.61 L490.8,708.83 L491.3,708.04 L491.8,707.22 L492.3,706.39 L492.8,705.55 L493.3,704.69 L493.8,703.82 L494.3,702.93 L494.8,702.04 L495.3,701.13 L495.8,700.22 L496.3,699.3 L496.8,698.37 L497.3,697.43 L497.8,696.49 L498.3,695.55 L498.8,694.6 L499.3,693.65 L499.8,692.7 L500.3,691.75 L500.8,690.79 L501.3,689.82 L501.8,688.86 L502.3,687.89 L502.8,686.91 L503.3,685.93 L503.8,684.94 L504.3,683.95 L504.8,682.96 L505.3,681.95 L505.8,680.94 L506.3,679.93 L506.8,678.91 L507.3,677.88 L507.8,676.84 L508.3,675.8 L508.8,674.74 L509.3,673.68 L509.8,672.61 L510.3,671.54 L510.8,670.45 L511.3,669.35 L511.8,668.24 L512.3,667.12 L512.8,665.99 L513.3,664.85 L513.8,663.69 L514.3,662.52 L514.8,661.34 L515.3,660.14 L515.8,658.92 L516.3,657.68 L516.8,656.42 L517.3,655.13 L517.8,653.81 L518.3,652.46 L518.8,651.07 L519.3,649.65 L519.8,648.19 L520.3,646.71 L520.8,645.21 L521.3,643.73 L521.8,642.25 L522.3,640.81 L522.8,639.41 L523.3,638.07 L523.8,636.79 L524.3,635.56 L524.8,634.38 L525.3,633.25 L525.8,632.16 L526.3,631.11 L526.8,630.1 L527.3,629.12 L527.8,628.16 L528.3,627.23 L528.8,626.32 L529.3,625.42 L529.8,624.53 L530.3,623.65 L530.8,622.77 L531.3,621.89 L531.8,621 L532.3,620.11 L532.8,619.22 L533.3,618.34 L533.8,617.48 L534.3,616.64 L534.8,615.83 L535.3,615.05 L535.8,614.3 L536.3,613.58 L536.8,612.88 L537.3,612.2 L537.8,611.54 L538.3,610.88 L538.8,610.23 L539.3,609.58 L539.8,608.92 L540.3,608.26 L540.8,607.59 L541.3,606.9 L541.8,606.19 L542.3,605.46 L542.4,605.31" stroke="#111" stroke-width="1.1" stroke-dasharray="2.5 2.05" fill="none"/></g>
</svg></body></html>
